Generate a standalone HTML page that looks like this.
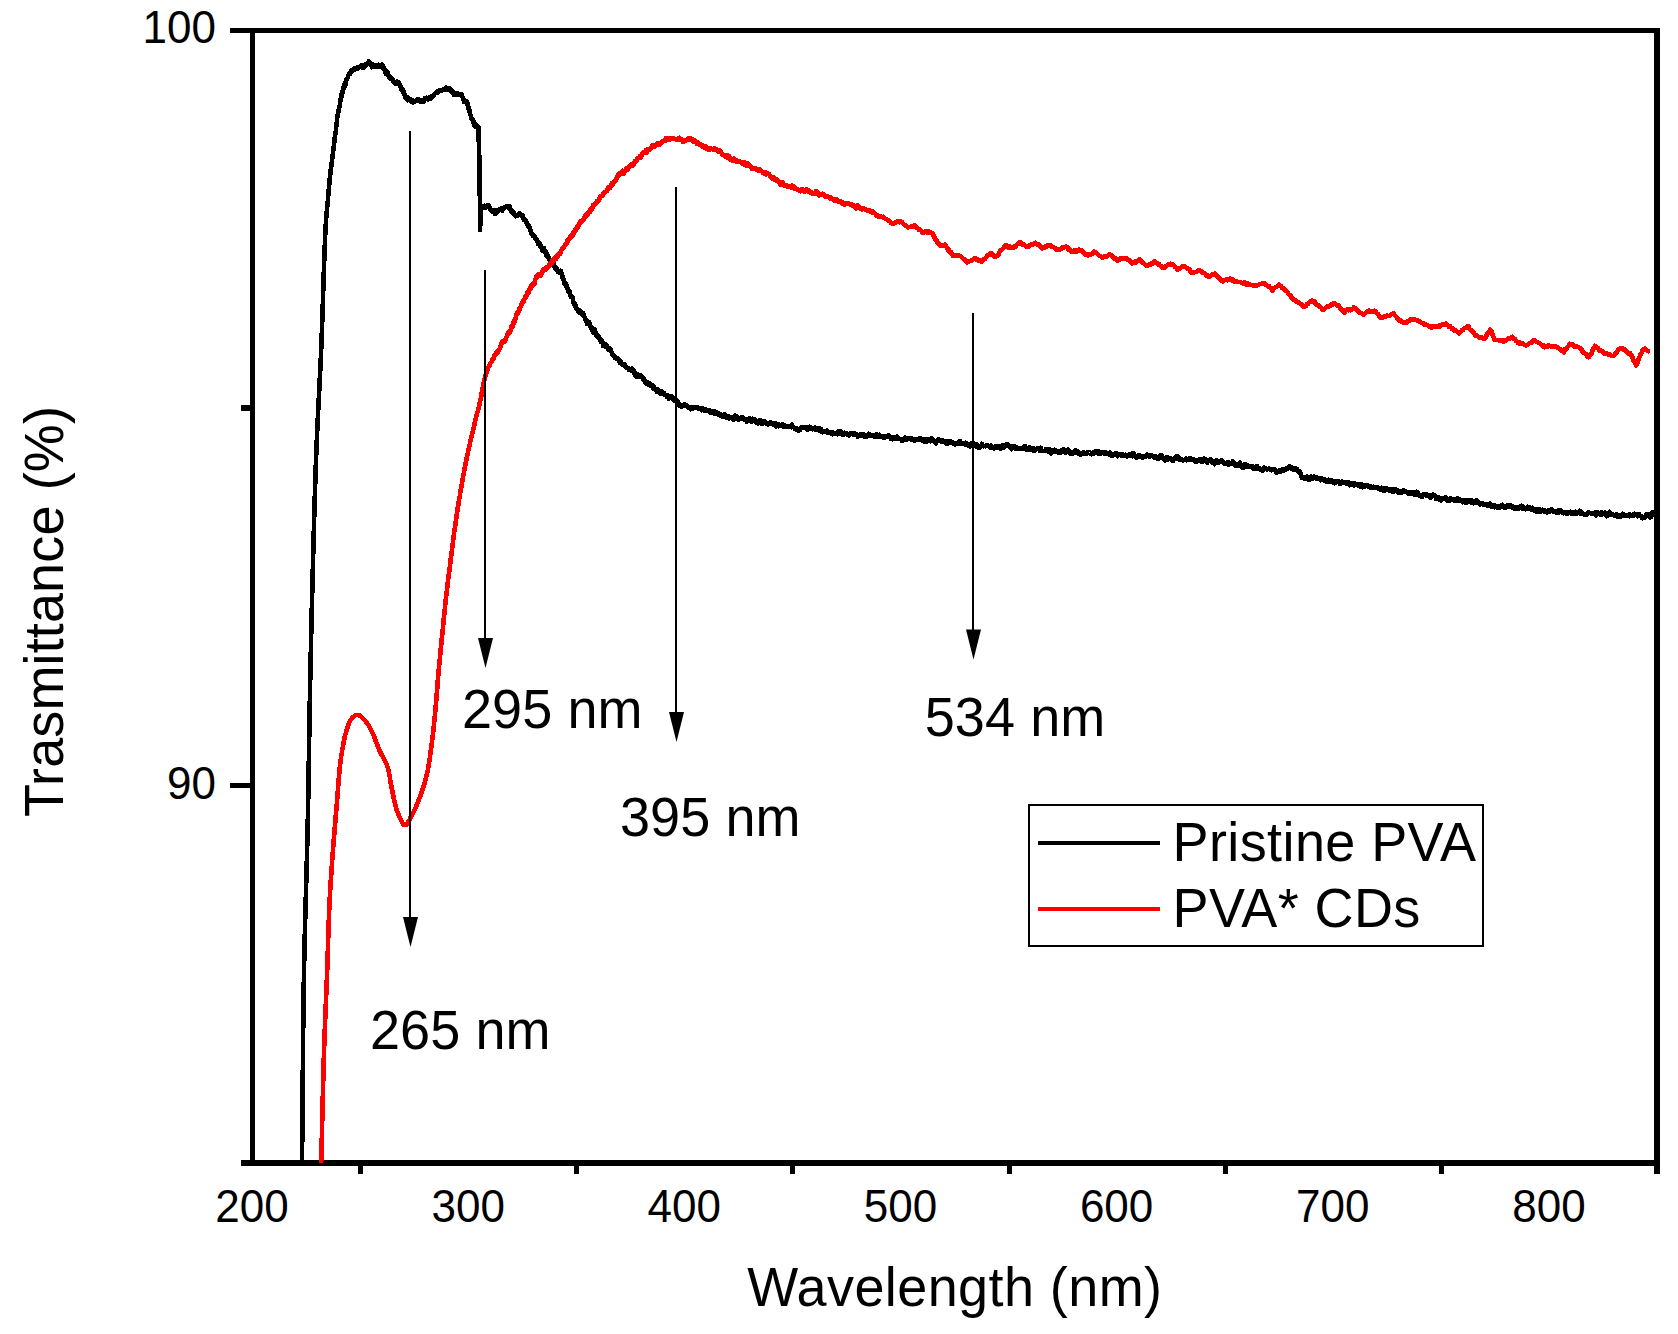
<!DOCTYPE html>
<html><head><meta charset="utf-8"><title>Transmittance</title>
<style>html,body{margin:0;padding:0;background:#fff;overflow:hidden}svg{display:block}</style>
</head><body>
<svg width="1678" height="1334" viewBox="0 0 1678 1334">
<rect width="1678" height="1334" fill="#fff"/>
<g fill="#000" shape-rendering="crispEdges">
<rect x="250" y="28" width="5" height="1138"/>
<rect x="1654" y="28" width="6" height="1146"/>
<rect x="230" y="28" width="1428" height="5"/>
<rect x="241" y="1160" width="1419" height="6"/>
<rect x="230" y="783" width="22" height="5"/>
<rect x="241" y="405" width="11" height="6"/>
<rect x="358.1" y="1163" width="5" height="11"/>
<rect x="574.2" y="1163" width="5" height="11"/>
<rect x="790.4" y="1163" width="5" height="11"/>
<rect x="1006.6" y="1163" width="5" height="11"/>
<rect x="1222.7" y="1163" width="5" height="11"/>
<rect x="1438.9" y="1163" width="5" height="11"/>
</g>
<clipPath id="c"><rect x="252" y="30" width="1405" height="1133"/></clipPath>
<g clip-path="url(#c)" fill="none" stroke-linejoin="round" stroke-linecap="butt" shape-rendering="crispEdges">
<path d="M302.0,1163.0 L302.0,1162.3 L302.0,1161.5 L302.0,1160.8 L302.0,1160.0 L302.0,1159.3 L302.0,1158.5 L302.0,1157.8 L302.0,1157.1 L302.0,1156.4 L302.0,1155.7 L302.0,1155.0 L302.0,1154.3 L302.0,1153.6 L302.0,1152.9 L302.1,1152.2 L302.1,1151.5 L302.1,1150.8 L302.1,1150.1 L302.1,1149.4 L302.1,1148.7 L302.1,1148.0 L302.1,1147.3 L302.1,1146.6 L302.1,1145.9 L302.1,1145.2 L302.1,1144.5 L302.1,1143.8 L302.1,1143.1 L302.2,1142.4 L302.2,1141.7 L302.2,1140.9 L302.2,1140.2 L302.2,1139.5 L302.2,1138.8 L302.2,1138.1 L302.2,1137.4 L302.2,1136.7 L302.2,1136.0 L302.2,1135.3 L302.2,1134.6 L302.2,1133.9 L302.2,1133.2 L302.2,1132.5 L302.2,1131.8 L302.3,1131.1 L302.3,1130.4 L302.3,1129.6 L302.3,1128.9 L302.3,1128.2 L302.3,1127.5 L302.3,1126.8 L302.3,1126.1 L302.3,1125.4 L302.3,1124.7 L302.3,1124.0 L302.3,1123.3 L302.3,1122.6 L302.3,1121.8 L302.3,1121.1 L302.3,1120.4 L302.4,1119.7 L302.4,1119.0 L302.4,1118.3 L302.4,1117.6 L302.4,1116.9 L302.4,1116.2 L302.4,1115.5 L302.4,1114.7 L302.4,1114.0 L302.4,1113.3 L302.4,1112.6 L302.4,1111.9 L302.4,1111.2 L302.4,1110.5 L302.4,1109.8 L302.4,1109.1 L302.4,1108.3 L302.5,1107.6 L302.5,1106.9 L302.5,1106.2 L302.5,1105.5 L302.5,1104.8 L302.5,1104.1 L302.5,1103.4 L302.5,1102.7 L302.5,1101.9 L302.5,1101.2 L302.5,1100.5 L302.5,1099.8 L302.5,1099.1 L302.5,1098.4 L302.5,1097.7 L302.5,1097.0 L302.5,1096.2 L302.5,1095.5 L302.6,1094.8 L302.6,1094.1 L302.6,1093.4 L302.6,1092.7 L302.6,1092.0 L302.6,1091.3 L302.6,1090.6 L302.6,1089.8 L302.6,1089.1 L302.6,1088.4 L302.6,1087.7 L302.6,1087.0 L302.6,1086.3 L302.6,1085.6 L302.6,1084.9 L302.6,1084.1 L302.6,1083.4 L302.7,1082.7 L302.7,1082.0 L302.7,1081.3 L302.7,1080.6 L302.7,1079.9 L302.7,1079.2 L302.7,1078.5 L302.7,1077.7 L302.7,1077.0 L302.7,1076.3 L302.7,1075.6 L302.7,1074.9 L302.7,1074.2 L302.7,1073.5 L302.7,1072.8 L302.7,1072.1 L302.7,1071.4 L302.8,1070.6 L302.8,1069.9 L302.8,1069.2 L302.8,1068.5 L302.8,1067.8 L302.8,1067.1 L302.8,1066.4 L302.8,1065.7 L302.8,1065.0 L302.8,1064.3 L302.8,1063.6 L302.8,1062.8 L302.8,1062.1 L302.8,1061.4 L302.8,1060.7 L302.8,1060.0 L302.8,1059.3 L302.9,1058.6 L302.9,1057.9 L302.9,1057.2 L302.9,1056.5 L302.9,1055.8 L302.9,1055.1 L302.9,1054.4 L302.9,1053.7 L302.9,1052.9 L302.9,1052.2 L302.9,1051.5 L302.9,1050.8 L302.9,1050.1 L302.9,1049.4 L302.9,1048.7 L303.0,1048.0 L303.0,1047.3 L303.0,1046.6 L303.0,1045.9 L303.0,1045.2 L303.0,1044.5 L303.0,1043.8 L303.0,1043.1 L303.0,1042.4 L303.0,1041.7 L303.0,1041.0 L303.0,1040.3 L303.0,1039.6 L303.0,1038.9 L303.0,1038.2 L303.1,1037.5 L303.1,1036.8 L303.1,1036.1 L303.1,1035.4 L303.1,1034.7 L303.1,1034.0 L303.1,1033.3 L303.1,1032.6 L303.1,1031.9 L303.1,1031.2 L303.1,1030.5 L303.1,1029.8 L303.1,1029.1 L303.1,1028.4 L303.2,1027.7 L303.2,1027.0 L303.2,1026.3 L303.2,1025.6 L303.2,1024.9 L303.2,1024.2 L303.2,1023.5 L303.2,1022.8 L303.2,1022.1 L303.2,1021.4 L303.2,1020.8 L303.2,1020.1 L303.2,1019.4 L303.3,1018.7 L303.3,1018.0 L303.3,1017.3 L303.3,1016.6 L303.3,1015.9 L303.3,1015.2 L303.3,1014.5 L303.3,1013.8 L303.3,1013.2 L303.3,1012.5 L303.3,1011.8 L303.3,1011.1 L303.4,1010.4 L303.4,1009.7 L303.4,1009.0 L303.4,1008.3 L303.4,1007.7 L303.4,1007.0 L303.4,1006.3 L303.4,1005.6 L303.4,1004.9 L303.4,1004.2 L303.4,1003.6 L303.5,1002.9 L303.5,1002.2 L303.5,1001.5 L303.5,1000.8 L303.5,1000.2 L303.5,999.5 L303.5,998.8 L303.5,998.1 L303.5,997.4 L303.5,996.8 L303.5,996.1 L303.6,995.4 L303.6,994.7 L303.6,994.0 L303.6,993.4 L303.6,992.7 L303.6,992.0 L303.6,991.3 L303.6,990.7 L303.6,990.0 L303.6,989.3 L303.7,988.7 L303.7,988.0 L303.7,987.3 L303.7,986.6 L303.7,986.0 L303.7,985.3 L303.7,984.6 L303.7,984.0 L303.7,983.3 L303.8,982.6 L303.8,982.0 L303.8,981.3 L303.8,980.6 L303.8,980.0 L303.8,979.3 L303.8,978.6 L303.8,978.0 L303.8,977.3 L303.9,976.6 L303.9,976.0 L303.9,975.3 L303.9,974.7 L303.9,974.0 L303.9,973.3 L303.9,972.5 L303.9,971.8 L304.0,971.0 L304.0,970.3 L304.0,969.6 L304.0,968.8 L304.0,968.1 L304.0,967.4 L304.0,966.6 L304.1,965.9 L304.1,965.2 L304.1,964.4 L304.1,963.7 L304.1,963.0 L304.1,962.3 L304.1,961.5 L304.2,960.8 L304.2,960.1 L304.2,959.3 L304.2,958.6 L304.2,957.9 L304.2,957.2 L304.2,956.4 L304.3,955.7 L304.3,955.0 L304.3,954.3 L304.3,953.5 L304.3,952.8 L304.3,952.1 L304.4,951.4 L304.4,950.7 L304.4,949.9 L304.4,949.2 L304.4,948.5 L304.4,947.8 L304.5,947.1 L304.5,946.3 L304.5,945.6 L304.5,944.9 L304.5,944.2 L304.5,943.5 L304.6,942.8 L304.6,942.1 L304.6,941.3 L304.6,940.6 L304.6,939.9 L304.6,939.2 L304.7,938.5 L304.7,937.8 L304.7,937.1 L304.7,936.4 L304.7,935.6 L304.7,934.9 L304.8,934.2 L304.8,933.5 L304.8,932.8 L304.8,932.1 L304.8,931.4 L304.9,930.7 L304.9,930.0 L304.9,929.3 L304.9,928.6 L304.9,927.9 L304.9,927.1 L305.0,926.4 L305.0,925.7 L305.0,925.0 L305.0,924.3 L305.0,923.6 L305.1,922.9 L305.1,922.2 L305.1,921.5 L305.1,920.8 L305.1,920.1 L305.2,919.4 L305.2,918.7 L305.2,918.0 L305.2,917.3 L305.2,916.6 L305.2,915.9 L305.3,915.2 L305.3,914.5 L305.3,913.8 L305.3,913.1 L305.3,912.4 L305.4,911.7 L305.4,911.0 L305.4,910.3 L305.4,909.6 L305.4,908.9 L305.5,908.2 L305.5,907.5 L305.5,906.8 L305.5,906.1 L305.5,905.5 L305.6,904.8 L305.6,904.1 L305.6,903.4 L305.6,902.7 L305.6,902.0 L305.7,901.3 L305.7,900.6 L305.7,899.9 L305.7,899.2 L305.7,898.5 L305.7,897.8 L305.8,897.1 L305.8,896.4 L305.8,895.7 L305.8,895.1 L305.8,894.4 L305.9,893.7 L305.9,893.0 L305.9,892.3 L305.9,891.6 L305.9,890.9 L306.0,890.2 L306.0,889.5 L306.0,888.8 L306.0,888.2 L306.0,887.5 L306.1,886.8 L306.1,886.1 L306.1,885.4 L306.1,884.7 L306.1,884.0 L306.2,883.3 L306.2,882.6 L306.2,882.0 L306.2,881.3 L306.2,880.6 L306.3,879.9 L306.3,879.2 L306.3,878.5 L306.3,877.8 L306.3,877.1 L306.4,876.5 L306.4,875.8 L306.4,875.1 L306.4,874.4 L306.4,873.7 L306.4,873.0 L306.5,872.3 L306.5,871.6 L306.5,871.0 L306.5,870.3 L306.5,869.6 L306.6,868.9 L306.6,868.2 L306.6,867.5 L306.6,866.8 L306.6,866.2 L306.7,865.5 L306.7,864.8 L306.7,864.1 L306.7,863.4 L306.7,862.7 L306.7,862.0 L306.8,861.4 L306.8,860.7 L306.8,860.0 L306.8,859.3 L306.8,858.6 L306.9,857.9 L306.9,857.2 L306.9,856.6 L306.9,855.9 L306.9,855.2 L306.9,854.5 L307.0,853.8 L307.0,853.1 L307.0,852.4 L307.0,851.7 L307.0,851.1 L307.1,850.4 L307.1,849.7 L307.1,849.0 L307.1,848.3 L307.1,847.6 L307.1,846.9 L307.2,846.3 L307.2,845.6 L307.2,844.9 L307.2,844.2 L307.2,843.5 L307.2,842.8 L307.3,842.1 L307.3,841.5 L307.3,840.8 L307.3,840.1 L307.3,839.4 L307.3,838.7 L307.4,838.0 L307.4,837.3 L307.4,836.6 L307.4,836.0 L307.4,835.3 L307.4,834.6 L307.4,833.9 L307.5,833.2 L307.5,832.5 L307.5,831.8 L307.5,831.1 L307.5,830.4 L307.5,829.8 L307.6,829.1 L307.6,828.4 L307.6,827.7 L307.6,827.0 L307.6,826.3 L307.6,825.6 L307.6,824.9 L307.7,824.2 L307.7,823.4 L307.7,822.7 L307.7,822.0 L307.7,821.3 L307.7,820.6 L307.7,819.9 L307.8,819.2 L307.8,818.5 L307.8,817.8 L307.8,817.0 L307.8,816.3 L307.8,815.6 L307.8,814.9 L307.9,814.2 L307.9,813.5 L307.9,812.8 L307.9,812.1 L307.9,811.4 L307.9,810.6 L307.9,809.9 L308.0,809.2 L308.0,808.5 L308.0,807.8 L308.0,807.1 L308.0,806.4 L308.0,805.7 L308.0,805.0 L308.0,804.3 L308.1,803.5 L308.1,802.8 L308.1,802.1 L308.1,801.4 L308.1,800.7 L308.1,800.0 L308.1,799.3 L308.2,798.6 L308.2,797.9 L308.2,797.1 L308.2,796.4 L308.2,795.7 L308.2,795.0 L308.2,794.3 L308.2,793.6 L308.2,792.9 L308.3,792.2 L308.3,791.5 L308.3,790.8 L308.3,790.0 L308.3,789.3 L308.3,788.6 L308.3,787.9 L308.3,787.2 L308.4,786.5 L308.4,785.8 L308.4,785.1 L308.4,784.4 L308.4,783.7 L308.4,782.9 L308.4,782.2 L308.4,781.5 L308.5,780.8 L308.5,780.1 L308.5,779.4 L308.5,778.7 L308.5,778.0 L308.5,777.3 L308.5,776.6 L308.5,775.9 L308.5,775.2 L308.6,774.4 L308.6,773.7 L308.6,773.0 L308.6,772.3 L308.6,771.6 L308.6,770.9 L308.6,770.2 L308.6,769.5 L308.6,768.8 L308.7,768.1 L308.7,767.4 L308.7,766.7 L308.7,766.0 L308.7,765.3 L308.7,764.6 L308.7,763.8 L308.7,763.1 L308.7,762.4 L308.8,761.7 L308.8,761.0 L308.8,760.3 L308.8,759.6 L308.8,758.9 L308.8,758.2 L308.8,757.5 L308.8,756.8 L308.8,756.1 L308.9,755.4 L308.9,754.7 L308.9,754.0 L308.9,753.3 L308.9,752.6 L308.9,751.9 L308.9,751.2 L308.9,750.5 L308.9,749.8 L309.0,749.1 L309.0,748.4 L309.0,747.7 L309.0,747.0 L309.0,746.3 L309.0,745.6 L309.0,744.9 L309.0,744.2 L309.0,743.5 L309.1,742.8 L309.1,742.1 L309.1,741.4 L309.1,740.7 L309.1,740.0 L309.1,739.3 L309.1,738.6 L309.1,737.9 L309.1,737.2 L309.2,736.5 L309.2,735.8 L309.2,735.1 L309.2,734.4 L309.2,733.7 L309.2,733.0 L309.2,732.3 L309.2,731.6 L309.2,730.9 L309.3,730.2 L309.3,729.5 L309.3,728.8 L309.3,728.1 L309.3,727.4 L309.3,726.7 L309.3,726.0 L309.3,725.3 L309.3,724.6 L309.4,723.9 L309.4,723.2 L309.4,722.5 L309.4,721.9 L309.4,721.2 L309.4,720.5 L309.4,719.8 L309.4,719.1 L309.4,718.4 L309.5,717.7 L309.5,717.0 L309.5,716.3 L309.5,715.6 L309.5,714.9 L309.5,714.3 L309.5,713.6 L309.5,712.9 L309.6,712.2 L309.6,711.5 L309.6,710.8 L309.6,710.1 L309.6,709.4 L309.6,708.8 L309.6,708.1 L309.6,707.4 L309.7,706.7 L309.7,706.0 L309.7,705.3 L309.7,704.6 L309.7,704.0 L309.7,703.3 L309.7,702.6 L309.7,701.9 L309.8,701.2 L309.8,700.5 L309.8,699.8 L309.8,699.2 L309.8,698.5 L309.8,697.8 L309.8,697.1 L309.8,696.4 L309.9,695.8 L309.9,695.1 L309.9,694.4 L309.9,693.7 L309.9,693.0 L309.9,692.4 L309.9,691.7 L309.9,691.0 L310.0,690.3 L310.0,689.7 L310.0,689.0 L310.0,688.3 L310.0,687.6 L310.0,686.8 L310.0,686.1 L310.1,685.4 L310.1,684.7 L310.1,684.0 L310.1,683.2 L310.1,682.5 L310.1,681.8 L310.1,681.1 L310.2,680.3 L310.2,679.6 L310.2,678.9 L310.2,678.2 L310.2,677.5 L310.2,676.7 L310.3,676.0 L310.3,675.3 L310.3,674.6 L310.3,673.9 L310.3,673.1 L310.3,672.4 L310.3,671.7 L310.4,671.0 L310.4,670.3 L310.4,669.6 L310.4,668.8 L310.4,668.1 L310.4,667.4 L310.4,666.7 L310.5,666.0 L310.5,665.3 L310.5,664.6 L310.5,663.9 L310.5,663.1 L310.5,662.4 L310.6,661.7 L310.6,661.0 L310.6,660.3 L310.6,659.6 L310.6,658.9 L310.6,658.2 L310.6,657.5 L310.7,656.7 L310.7,656.0 L310.7,655.3 L310.7,654.6 L310.7,653.9 L310.7,653.2 L310.8,652.5 L310.8,651.8 L310.8,651.1 L310.8,650.4 L310.8,649.7 L310.8,649.0 L310.8,648.3 L310.9,647.5 L310.9,646.8 L310.9,646.1 L310.9,645.4 L310.9,644.7 L310.9,644.0 L311.0,643.3 L311.0,642.6 L311.0,641.9 L311.0,641.2 L311.0,640.5 L311.0,639.8 L311.1,639.1 L311.1,638.4 L311.1,637.7 L311.1,637.0 L311.1,636.3 L311.1,635.6 L311.1,634.9 L311.2,634.2 L311.2,633.5 L311.2,632.8 L311.2,632.1 L311.2,631.4 L311.2,630.7 L311.3,630.0 L311.3,629.3 L311.3,628.6 L311.3,627.9 L311.3,627.2 L311.3,626.5 L311.4,625.8 L311.4,625.1 L311.4,624.4 L311.4,623.7 L311.4,623.0 L311.4,622.3 L311.5,621.6 L311.5,620.9 L311.5,620.2 L311.5,619.5 L311.5,618.8 L311.5,618.1 L311.5,617.4 L311.6,616.8 L311.6,616.1 L311.6,615.4 L311.6,614.7 L311.6,614.0 L311.6,613.3 L311.7,612.6 L311.7,611.9 L311.7,611.2 L311.7,610.5 L311.7,609.8 L311.7,609.1 L311.8,608.4 L311.8,607.7 L311.8,607.0 L311.8,606.3 L311.8,605.6 L311.9,604.9 L311.9,604.3 L311.9,603.6 L311.9,602.9 L311.9,602.2 L311.9,601.5 L312.0,600.8 L312.0,600.1 L312.0,599.4 L312.0,598.7 L312.0,598.0 L312.0,597.3 L312.1,596.6 L312.1,595.9 L312.1,595.3 L312.1,594.6 L312.1,593.9 L312.1,593.2 L312.2,592.5 L312.2,591.8 L312.2,591.1 L312.2,590.4 L312.2,589.7 L312.2,589.0 L312.3,588.3 L312.3,587.6 L312.3,587.0 L312.3,586.3 L312.3,585.6 L312.4,584.9 L312.4,584.2 L312.4,583.5 L312.4,582.8 L312.4,582.1 L312.4,581.4 L312.5,580.7 L312.5,580.0 L312.5,579.3 L312.5,578.7 L312.5,578.0 L312.5,577.3 L312.6,576.6 L312.6,575.9 L312.6,575.2 L312.6,574.5 L312.6,573.8 L312.7,573.1 L312.7,572.4 L312.7,571.7 L312.7,571.1 L312.7,570.4 L312.7,569.7 L312.8,569.0 L312.8,568.3 L312.8,567.6 L312.8,566.9 L312.8,566.2 L312.9,565.5 L312.9,564.8 L312.9,564.1 L312.9,563.4 L312.9,562.6 L312.9,561.9 L313.0,561.2 L313.0,560.5 L313.0,559.8 L313.0,559.1 L313.0,558.4 L313.1,557.7 L313.1,557.0 L313.1,556.3 L313.1,555.6 L313.1,554.9 L313.2,554.2 L313.2,553.5 L313.2,552.8 L313.2,552.1 L313.2,551.4 L313.2,550.6 L313.3,549.9 L313.3,549.2 L313.3,548.5 L313.3,547.8 L313.3,547.1 L313.4,546.4 L313.4,545.7 L313.4,545.0 L313.4,544.3 L313.4,543.6 L313.5,542.9 L313.5,542.2 L313.5,541.5 L313.5,540.8 L313.5,540.1 L313.5,539.4 L313.6,538.7 L313.6,538.0 L313.6,537.3 L313.6,536.6 L313.6,535.9 L313.7,535.2 L313.7,534.5 L313.7,533.8 L313.7,533.1 L313.7,532.4 L313.8,531.7 L313.8,531.0 L313.8,530.3 L313.8,529.6 L313.8,528.9 L313.8,528.2 L313.9,527.5 L313.9,526.8 L313.9,526.1 L313.9,525.4 L313.9,524.7 L314.0,524.0 L314.0,523.3 L314.0,522.6 L314.0,521.9 L314.0,521.2 L314.1,520.5 L314.1,519.8 L314.1,519.1 L314.1,518.4 L314.1,517.7 L314.2,517.0 L314.2,516.3 L314.2,515.6 L314.2,514.9 L314.2,514.2 L314.3,513.5 L314.3,512.8 L314.3,512.1 L314.3,511.4 L314.3,510.7 L314.3,510.0 L314.4,509.3 L314.4,508.6 L314.4,507.9 L314.4,507.2 L314.5,506.5 L314.5,505.9 L314.5,505.2 L314.5,504.5 L314.5,503.8 L314.6,503.1 L314.6,502.4 L314.6,501.7 L314.6,501.0 L314.6,500.3 L314.7,499.6 L314.7,498.9 L314.7,498.2 L314.7,497.5 L314.7,496.8 L314.8,496.1 L314.8,495.4 L314.8,494.7 L314.8,494.0 L314.8,493.3 L314.9,492.6 L314.9,491.9 L314.9,491.2 L314.9,490.6 L315.0,489.9 L315.0,489.2 L315.0,488.5 L315.0,487.8 L315.0,487.1 L315.1,486.4 L315.1,485.7 L315.1,485.0 L315.1,484.3 L315.2,483.6 L315.2,482.9 L315.2,482.2 L315.2,481.5 L315.2,480.8 L315.3,480.1 L315.3,479.4 L315.3,478.8 L315.3,478.1 L315.4,477.4 L315.4,476.7 L315.4,476.0 L315.4,475.3 L315.4,474.6 L315.5,473.9 L315.5,473.2 L315.5,472.5 L315.5,471.8 L315.6,471.1 L315.6,470.4 L315.6,469.7 L315.6,469.0 L315.7,468.4 L315.7,467.7 L315.7,467.0 L315.7,466.3 L315.8,465.6 L315.8,464.9 L315.8,464.2 L315.8,463.5 L315.9,462.8 L315.9,462.1 L315.9,461.4 L315.9,460.7 L316.0,460.0 L316.0,459.3 L316.0,458.6 L316.0,458.0 L316.1,457.3 L316.1,456.6 L316.1,455.9 L316.1,455.2 L316.2,454.5 L316.2,453.8 L316.2,453.1 L316.3,452.4 L316.3,451.7 L316.3,451.0 L316.3,450.3 L316.4,449.6 L316.4,448.9 L316.4,448.2 L316.5,447.4 L316.5,446.7 L316.5,446.0 L316.5,445.3 L316.6,444.6 L316.6,443.9 L316.6,443.2 L316.7,442.5 L316.7,441.8 L316.7,441.1 L316.8,440.3 L316.8,439.6 L316.8,438.9 L316.8,438.2 L316.9,437.5 L316.9,436.8 L316.9,436.1 L317.0,435.4 L317.0,434.6 L317.0,433.9 L317.1,433.2 L317.1,432.5 L317.1,431.8 L317.2,431.1 L317.2,430.4 L317.2,429.7 L317.3,428.9 L317.3,428.2 L317.3,427.5 L317.4,426.8 L317.4,426.1 L317.4,425.4 L317.5,424.7 L317.5,423.9 L317.5,423.2 L317.6,422.5 L317.6,421.8 L317.6,421.1 L317.7,420.4 L317.7,419.6 L317.7,418.9 L317.8,418.2 L317.8,417.5 L317.9,416.8 L317.9,416.1 L317.9,415.4 L318.0,414.6 L318.0,413.9 L318.0,413.2 L318.1,412.5 L318.1,411.8 L318.1,411.1 L318.2,410.4 L318.2,409.6 L318.2,408.9 L318.3,408.2 L318.3,407.5 L318.3,406.8 L318.4,406.1 L318.4,405.4 L318.5,404.7 L318.5,403.9 L318.5,403.2 L318.6,402.5 L318.6,401.8 L318.6,401.1 L318.7,400.4 L318.7,399.7 L318.7,399.0 L318.8,398.3 L318.8,397.5 L318.9,396.8 L318.9,396.1 L318.9,395.4 L319.0,394.7 L319.0,394.0 L319.0,393.3 L319.1,392.6 L319.1,391.9 L319.1,391.2 L319.2,390.5 L319.2,389.8 L319.2,389.1 L319.3,388.4 L319.3,387.6 L319.4,386.9 L319.4,386.2 L319.4,385.5 L319.5,384.8 L319.5,384.1 L319.5,383.4 L319.6,382.7 L319.6,382.0 L319.6,381.3 L319.7,380.6 L319.7,379.9 L319.7,379.2 L319.8,378.5 L319.8,377.8 L319.8,377.2 L319.9,376.5 L319.9,375.8 L320.0,375.1 L320.0,374.4 L320.0,373.7 L320.1,373.0 L320.1,372.3 L320.1,371.6 L320.2,370.9 L320.2,370.2 L320.2,369.5 L320.3,368.9 L320.3,368.2 L320.3,367.5 L320.4,366.8 L320.4,366.1 L320.4,365.4 L320.5,364.8 L320.5,364.1 L320.5,363.4 L320.6,362.7 L320.6,362.0 L320.6,361.4 L320.6,360.7 L320.7,360.0 L320.7,359.3 L320.7,358.6 L320.8,358.0 L320.8,357.3 L320.8,356.6 L320.9,356.0 L320.9,355.3 L320.9,354.6 L321.0,353.9 L321.0,353.3 L321.0,352.6 L321.0,352.0 L321.1,351.3 L321.1,350.6 L321.1,350.0 L321.2,349.3 L321.2,348.6 L321.2,348.0 L321.2,347.3 L321.3,346.7 L321.3,346.0 L321.3,345.4 L321.3,344.7 L321.4,344.1 L321.4,343.4 L321.4,342.7 L321.5,341.9 L321.5,341.2 L321.5,340.4 L321.5,339.7 L321.6,338.9 L321.6,338.2 L321.6,337.4 L321.7,336.7 L321.7,335.9 L321.7,335.2 L321.7,334.4 L321.8,333.7 L321.8,332.9 L321.8,332.2 L321.9,331.4 L321.9,330.6 L321.9,329.9 L321.9,329.1 L322.0,328.4 L322.0,327.6 L322.0,326.9 L322.0,326.1 L322.1,325.4 L322.1,324.6 L322.1,323.9 L322.1,323.1 L322.2,322.4 L322.2,321.6 L322.2,320.9 L322.2,320.1 L322.3,319.4 L322.3,318.6 L322.3,317.9 L322.3,317.1 L322.4,316.4 L322.4,315.6 L322.4,314.9 L322.4,314.1 L322.5,313.4 L322.5,312.6 L322.5,311.9 L322.5,311.1 L322.6,310.4 L322.6,309.7 L322.6,308.9 L322.6,308.2 L322.7,307.4 L322.7,306.7 L322.7,306.0 L322.7,305.2 L322.7,304.5 L322.8,303.8 L322.8,303.0 L322.8,302.3 L322.8,301.6 L322.9,300.9 L322.9,300.1 L322.9,299.4 L322.9,298.7 L323.0,298.0 L323.0,297.2 L323.0,296.5 L323.0,295.8 L323.0,295.1 L323.1,294.4 L323.1,293.7 L323.1,293.0 L323.1,292.3 L323.1,291.6 L323.2,290.9 L323.2,290.2 L323.2,289.5 L323.2,288.8 L323.3,288.1 L323.3,287.4 L323.3,286.7 L323.3,286.0 L323.3,285.3 L323.4,284.6 L323.4,283.9 L323.4,283.3 L323.4,282.6 L323.4,281.9 L323.5,281.3 L323.5,280.6 L323.5,279.9 L323.5,279.3 L323.5,278.6 L323.6,277.9 L323.6,277.3 L323.6,276.6 L323.6,276.0 L323.7,275.3 L323.7,274.7 L323.7,274.1 L323.7,273.4 L323.7,272.8 L323.8,272.2 L323.8,271.5 L323.8,270.9 L323.8,270.3 L323.8,269.7 L323.9,269.1 L323.9,268.4 L323.9,267.8 L323.9,267.2 L323.9,266.6 L324.0,266.0 L324.0,265.4 L324.0,264.8 L324.0,264.3 L324.1,263.7 L324.1,263.1 L324.1,262.5 L324.1,261.9 L324.1,261.4 L324.2,260.8 L324.2,260.3 L324.2,259.7 L324.2,258.9 L324.3,258.0 L324.3,257.2 L324.3,256.4 L324.4,255.6 L324.4,254.8 L324.4,254.0 L324.4,253.2 L324.5,252.4 L324.5,251.7 L324.5,250.9 L324.6,250.1 L324.6,249.4 L324.6,248.6 L324.6,247.9 L324.7,247.2 L324.7,246.4 L324.7,245.7 L324.8,245.0 L324.8,244.3 L324.8,243.6 L324.8,242.9 L324.9,242.2 L324.9,241.5 L324.9,240.8 L324.9,240.1 L325.0,239.5 L325.0,238.8 L325.0,238.1 L325.1,237.4 L325.1,236.8 L325.1,236.1 L325.1,235.5 L325.2,234.8 L325.2,234.2 L325.2,233.5 L325.3,232.9 L325.3,232.2 L325.3,231.6 L325.4,230.9 L325.4,230.3 L325.4,229.6 L325.5,229.0 L325.5,228.4 L325.5,227.7 L325.6,227.1 L325.6,226.5 L325.6,225.8 L325.7,225.2 L325.7,224.6 L325.8,223.9 L325.8,223.3 L325.9,222.5 L325.9,221.8 L326.0,221.0 L326.0,220.3 L326.1,219.6 L326.1,218.8 L326.2,218.1 L326.2,217.4 L326.3,216.7 L326.4,216.0 L326.4,215.3 L326.5,214.5 L326.5,213.8 L326.6,213.1 L326.7,212.5 L326.7,211.8 L326.8,211.1 L326.9,210.4 L326.9,209.7 L327.0,209.0 L327.0,208.3 L327.1,207.7 L327.2,207.0 L327.2,206.3 L327.3,205.7 L327.4,205.0 L327.4,204.3 L327.5,203.6 L327.6,203.0 L327.6,202.3 L327.7,201.6 L327.8,201.0 L327.8,200.3 L327.9,199.6 L327.9,199.0 L328.0,198.3 L328.1,197.6 L328.1,196.9 L328.2,196.1 L328.3,195.4 L328.3,194.7 L328.4,194.0 L328.4,193.3 L328.5,192.6 L328.6,191.9 L328.6,191.2 L328.7,190.5 L328.7,189.8 L328.8,189.1 L328.9,188.4 L328.9,187.7 L329.0,187.0 L329.1,186.3 L329.1,185.6 L329.2,184.9 L329.2,184.2 L329.3,183.5 L329.4,182.9 L329.4,182.2 L329.5,181.5 L329.6,180.8 L329.6,180.1 L329.7,179.4 L329.8,178.7 L329.9,178.1 L329.9,177.4 L330.0,176.7 L330.1,176.0 L330.2,175.3 L330.2,174.6 L330.3,173.9 L330.4,173.2 L330.5,172.5 L330.6,171.8 L330.6,171.1 L330.7,170.4 L330.8,169.7 L330.9,169.1 L331.0,168.4 L331.1,167.7 L331.2,167.0 L331.3,166.3 L331.3,165.6 L331.4,164.9 L331.5,164.3 L331.6,163.6 L331.7,162.9 L331.8,162.2 L331.9,161.5 L332.0,160.8 L332.1,160.1 L332.2,159.4 L332.2,158.8 L332.3,158.0 L332.4,157.4 L332.5,156.6 L332.6,156.0 L332.7,155.3 L332.8,154.6 L332.8,153.9 L332.9,153.3 L333.0,152.5" stroke="#000" stroke-width="4.6"/>
<path d="M333.0,152.5 L333.1,151.8 L333.2,151.1 L333.3,150.5 L333.4,149.7 L333.4,149.0 L333.5,148.5 L333.6,147.6 L333.7,147.2 L333.8,146.3 L333.9,145.7 L334.0,144.9 L334.1,144.5 L334.1,143.6 L334.2,143.2 L334.3,142.2 L334.4,141.2 L334.5,140.8 L334.6,139.6 L334.7,139.2 L334.7,138.7 L334.8,137.7 L334.9,137.3 L335.0,136.6 L335.1,135.9 L335.2,135.0 L335.3,134.6 L335.3,134.0 L335.4,132.9 L335.5,133.0 L335.6,132.4 L335.7,131.4 L335.8,131.1 L335.8,130.3 L335.9,129.1 L336.0,128.6 L336.1,127.9 L336.2,126.8 L336.3,125.2 L336.3,124.8 L336.4,124.5 L336.5,123.8 L336.6,123.3 L336.7,122.6 L336.8,121.8 L336.9,121.5 L336.9,121.1 L337.0,120.4 L337.1,119.8 L337.2,118.1 L337.3,117.4 L337.4,117.2 L337.5,116.4 L337.6,115.0 L337.7,115.3 L337.9,114.2 L338.0,114.8 L338.1,112.9 L338.3,112.2 L338.4,111.3 L338.5,110.5 L338.6,109.6 L338.8,109.5 L338.9,108.4 L339.0,108.3 L339.2,107.5 L339.3,107.1 L339.5,106.2 L339.6,105.7 L339.7,105.8 L339.9,104.3 L340.0,103.7 L340.1,102.8 L340.3,101.6 L340.4,100.4 L340.5,99.6 L340.7,99.1 L340.8,98.0 L340.9,98.6 L341.1,98.6 L341.2,98.0 L341.3,96.9 L341.5,95.1 L341.6,94.5 L341.8,93.9 L342.0,94.7 L342.1,92.8 L342.3,91.5 L342.5,93.2 L342.7,90.6 L342.9,88.9 L343.1,89.5 L343.3,89.6 L343.5,88.3 L343.7,86.6 L343.9,87.2 L344.2,84.8 L344.4,85.6 L344.6,86.5 L344.9,82.9 L345.1,84.4 L345.4,85.5 L345.6,83.4 L345.9,81.9 L346.2,80.4 L346.4,80.0 L346.7,78.6 L347.0,79.7 L347.3,78.7 L347.7,77.2 L348.0,77.8 L348.3,75.3 L348.7,74.6 L349.0,73.8 L349.4,72.9 L349.8,74.3 L350.1,74.0 L350.5,72.3 L350.9,71.8 L351.3,70.5 L351.7,71.8 L352.2,70.6 L352.7,70.8 L353.3,70.1 L353.8,70.0 L354.3,68.0 L354.9,68.6 L355.5,68.0 L356.1,68.9 L356.7,68.8 L357.3,69.0 L357.9,67.4 L358.6,67.8 L359.3,67.4 L359.9,67.0 L360.6,65.7 L361.3,65.8 L362.0,66.4 L362.6,67.6 L363.3,65.5 L363.9,67.0 L364.5,67.2 L365.1,64.5 L365.8,65.4 L366.4,65.1 L367.0,64.4 L367.6,63.3 L368.2,63.2 L368.8,61.4 L369.4,62.4 L370.0,62.8 L370.6,63.4 L371.2,65.6 L371.9,67.2 L372.5,65.5 L373.1,64.5 L373.7,65.8 L374.4,65.5 L375.0,67.1 L375.6,66.1 L376.1,65.9 L376.7,65.1 L377.4,65.2 L378.1,64.8 L378.8,66.5 L379.5,66.0 L380.1,65.7 L380.8,66.6 L381.2,65.5 L381.7,65.7 L382.1,64.5 L382.5,65.2 L382.9,67.2 L383.3,68.4 L383.7,67.5 L384.1,69.6 L384.5,69.5 L385.0,70.5 L385.4,72.9 L385.8,73.5 L386.2,74.1 L386.7,72.9 L387.2,71.6 L387.7,72.8 L388.2,74.8 L388.7,76.8 L389.2,75.4 L389.7,78.2 L390.2,78.8 L390.7,77.0 L391.2,79.3 L391.8,78.6 L392.3,79.2 L392.8,79.3 L393.3,80.3 L393.8,82.2 L394.4,82.5 L394.9,82.3 L395.4,82.2 L396.0,83.9 L396.5,81.7 L397.0,82.4 L397.6,81.8 L398.1,82.0 L398.6,83.8 L399.1,82.9 L399.6,84.8 L400.0,85.9 L400.4,86.1 L400.7,87.5 L401.1,87.7 L401.4,89.0 L401.7,89.9 L402.0,89.8 L402.3,90.4 L402.6,89.4 L402.9,92.5 L403.2,91.3 L403.5,91.4 L403.7,92.5 L404.0,93.8 L404.3,93.4 L404.7,94.2 L405.0,95.9 L405.5,98.2 L406.0,97.2 L406.4,98.8 L406.9,98.2 L407.4,100.2 L408.0,97.6 L408.6,99.7 L409.2,100.0 L409.8,98.7 L410.4,100.9 L411.1,101.3 L411.7,101.2 L412.4,100.5 L413.2,102.4 L413.9,101.2 L414.6,101.9 L415.3,100.7 L416.0,100.4 L416.7,100.3 L417.4,101.1 L418.0,98.9 L418.7,99.4 L419.3,100.8 L420.0,100.8 L420.6,101.7 L421.3,101.7 L421.9,101.9 L422.6,100.3 L423.3,100.2 L423.9,101.3 L424.5,98.5 L425.2,99.6 L425.8,98.5 L426.5,97.8 L427.1,99.2 L427.8,99.4 L428.5,99.1 L429.1,98.3 L429.8,97.0 L430.4,98.9 L431.1,98.2 L431.7,96.3 L432.3,97.1 L432.9,96.6 L433.5,96.4 L434.1,95.2 L434.7,93.7 L435.3,93.0 L435.9,92.5 L436.5,91.8 L437.1,92.4 L437.7,92.8 L438.3,91.4 L438.8,90.7 L439.4,90.8 L440.0,91.2 L440.7,90.0 L441.4,90.9 L442.0,90.8 L442.7,89.6 L443.4,89.5 L444.0,89.8 L444.7,89.8 L445.3,89.9 L446.0,87.5 L446.7,88.9 L447.3,87.9 L447.9,88.6 L448.6,90.1 L449.2,88.6 L449.8,88.2 L450.4,90.4 L451.1,89.8 L451.7,91.6 L452.3,91.1 L453.0,91.9 L453.6,94.5 L454.2,94.2 L454.8,93.4 L455.5,94.6 L456.1,93.5 L456.8,93.3 L457.5,94.4 L458.1,93.5 L458.8,94.4 L459.4,94.6 L460.0,95.1 L460.6,95.3 L461.2,94.1 L461.7,94.8 L462.2,96.7 L462.7,97.2 L463.1,98.5 L463.6,99.1 L464.0,101.8 L464.4,100.5 L464.8,101.0 L465.2,101.4 L465.6,101.4 L466.0,101.7 L466.3,102.3 L466.7,102.1 L467.0,101.3 L467.3,103.2 L467.5,104.2 L467.8,106.0 L468.0,106.0 L468.2,108.0 L468.4,106.9 L468.7,109.2 L468.9,109.1 L469.1,109.6 L469.3,111.4 L469.5,111.0 L469.7,110.6 L469.9,112.4 L470.1,114.0 L470.3,114.7 L470.6,115.1 L470.8,115.9 L471.1,116.1 L471.3,117.7 L471.6,118.7 L471.8,118.4 L472.1,119.6 L472.4,119.3 L472.6,119.6 L472.9,120.2 L473.2,122.2 L473.5,121.5 L473.7,123.5 L474.0,124.4 L474.3,124.0 L474.7,126.3 L475.0,125.7 L475.6,124.3 L476.3,127.1 L477.0,126.8 L477.6,128.3 L478.3,126.7 L478.3,127.4 L478.3,128.1 L478.4,128.8 L478.4,129.5 L478.4,130.2 L478.4,130.9 L478.5,131.6 L478.5,132.3 L478.5,133.0 L478.5,133.6 L478.5,134.3 L478.6,135.0 L478.6,135.7 L478.6,136.4 L478.6,137.1 L478.7,137.8 L478.7,138.5 L478.7,139.2 L478.7,139.9 L478.7,140.6 L478.8,141.3 L478.8,141.9 L478.8,142.6 L478.8,143.3 L478.9,144.0 L478.9,144.7 L478.9,145.4 L478.9,146.1 L478.9,146.8 L479.0,147.5 L479.0,148.2 L479.0,148.9 L479.0,149.6 L479.0,150.3 L479.1,151.0 L479.1,151.7 L479.1,152.4 L479.1,153.1 L479.1,153.8 L479.1,154.6 L479.2,155.3 L479.2,156.0 L479.2,156.7 L479.2,157.4 L479.2,158.1 L479.2,158.7 L479.3,159.4 L479.3,160.1 L479.3,160.8 L479.3,161.4 L479.3,162.1 L479.3,162.8 L479.3,163.5 L479.4,164.2 L479.4,164.8 L479.4,165.5 L479.4,166.2 L479.4,166.9 L479.4,167.6 L479.4,168.2 L479.4,168.9 L479.4,169.6 L479.5,170.3 L479.5,171.0 L479.5,171.7 L479.5,172.4 L479.5,173.1 L479.5,173.7 L479.5,174.4 L479.5,175.1 L479.5,175.8 L479.5,176.5 L479.5,177.2 L479.6,177.9 L479.6,178.6 L479.6,179.3 L479.6,180.0 L479.6,180.7 L479.6,181.4 L479.6,182.1 L479.6,182.8 L479.6,183.5 L479.6,184.3 L479.6,185.0 L479.7,185.7 L479.7,186.4 L479.7,187.1 L479.7,187.8 L479.7,188.6 L479.7,189.3 L479.7,190.0 L479.7,190.7 L479.7,191.3 L479.7,192.0 L479.7,192.7 L479.7,193.4 L479.7,194.1 L479.7,194.7 L479.8,195.4 L479.8,196.1 L479.8,196.8 L479.8,197.5 L479.8,198.2 L479.8,198.9 L479.8,199.6 L479.8,200.3 L479.8,201.0 L479.8,201.7 L479.8,202.4 L479.8,203.1 L479.8,203.8 L479.8,204.5 L479.8,205.2 L479.8,205.9 L479.8,206.6 L479.8,207.3 L479.9,208.0 L479.9,208.7 L479.9,209.4 L479.9,210.1 L479.9,210.8 L479.9,211.5 L479.9,212.3 L479.9,213.0 L479.9,213.7 L479.9,214.4 L479.9,215.1 L479.9,215.8 L479.9,216.5 L479.9,217.2 L479.9,218.0 L479.9,218.7 L479.9,219.4 L479.9,220.1 L479.9,220.8 L479.9,221.5 L479.9,222.2 L480.0,222.9 L480.0,223.6 L480.0,224.4 L480.0,225.1 L480.0,225.8 L480.0,226.5 L480.0,227.2 L480.0,227.9 L480.0,228.6 L480.0,229.3 L480.0,230.0 L480.0,229.3 L480.1,228.6 L480.1,227.8 L480.1,227.1 L480.1,226.4 L480.2,225.7 L480.2,224.9 L480.2,224.2 L480.2,223.5 L480.3,222.8 L480.3,222.0 L480.3,221.3 L480.3,220.6 L480.4,219.9 L480.4,219.2 L480.4,218.4 L480.5,217.7 L480.5,217.0 L480.5,216.3 L480.5,215.5 L480.6,214.8 L480.6,214.1 L480.6,213.4 L480.6,212.6 L480.7,211.9 L480.7,211.2 L480.7,210.5 L480.7,209.7 L480.8,209.0 L480.8,208.3 L481.5,208.1 L482.2,208.6 L482.9,206.4 L483.6,206.0 L484.3,205.8 L485.0,205.9 L485.7,207.5 L486.4,206.3 L487.1,206.2 L487.7,205.4 L488.3,207.1 L488.9,205.7 L489.4,207.4 L489.9,207.8 L490.3,209.9 L490.8,209.7 L491.2,210.6 L491.7,211.2 L492.2,210.3 L492.7,212.1 L493.3,210.2 L493.9,211.2 L494.4,213.2 L495.1,214.1 L495.7,213.3 L496.4,210.6 L497.0,211.7 L497.7,211.4 L498.4,209.6 L499.1,209.4 L499.8,209.0 L500.4,209.4 L501.1,208.6 L501.7,208.6 L502.4,210.6 L503.1,208.8 L503.8,208.3 L504.5,207.6 L505.2,206.9 L505.8,206.6 L506.5,206.1 L507.1,206.8 L507.7,206.6 L508.3,207.6 L508.8,207.4 L509.2,205.9 L509.6,206.8 L510.0,207.9 L510.4,208.5 L510.8,210.5 L511.2,210.3 L511.5,212.0 L511.9,211.5 L512.4,212.4 L512.8,213.2 L513.3,211.8 L513.9,214.5 L514.5,214.2 L515.2,214.9 L515.9,216.2 L516.6,215.5 L517.3,216.1 L518.0,215.4 L518.7,213.8 L519.4,213.0 L520.0,213.9 L520.5,214.3 L521.0,215.2 L521.5,215.9 L521.9,216.4 L522.4,214.9 L522.8,215.3 L523.3,218.6 L523.7,219.5 L524.2,219.3 L524.6,219.8 L525.0,219.8 L525.4,220.2 L525.9,222.5 L526.3,221.5 L526.7,222.3 L527.1,223.2 L527.4,223.4 L527.8,225.6 L528.1,226.7 L528.5,226.7 L528.8,225.7 L529.2,227.0 L529.5,226.9 L529.8,229.2 L530.2,230.1 L530.5,229.8 L530.9,232.0 L531.2,231.8 L531.5,234.0 L531.9,234.6 L532.2,234.1 L532.6,234.4 L532.9,236.2 L533.3,235.9 L533.7,236.2 L534.1,236.6 L534.5,236.4 L534.8,237.5 L535.2,237.8 L535.6,238.8 L536.0,238.8 L536.4,239.5 L536.8,240.0 L537.2,241.6 L537.6,242.2 L538.0,243.8 L538.5,242.8 L538.9,242.5 L539.3,244.0 L539.7,243.2 L540.1,246.3 L540.5,246.0 L540.9,245.2 L541.3,248.0 L541.6,246.7 L542.0,249.7 L542.4,250.4 L542.8,248.9 L543.2,250.3 L543.6,249.7 L544.0,248.1 L544.4,249.8 L544.8,250.5 L545.1,252.0 L545.5,251.0 L545.9,252.8 L546.3,255.3 L546.7,253.8 L547.1,256.1 L547.5,255.6 L547.8,256.0 L548.2,256.3 L548.6,257.9 L549.0,258.9 L549.5,260.4 L549.9,259.7 L550.3,260.4 L550.7,261.0 L551.1,261.0 L551.5,263.5 L552.0,264.4 L552.4,262.4 L552.8,264.6 L553.2,264.1 L553.6,263.7 L554.0,266.1 L554.4,266.3 L554.9,267.4 L555.3,266.8 L555.7,269.3 L556.2,268.9 L556.7,270.4 L557.1,269.2 L557.6,271.6 L558.1,270.3 L558.6,271.7 L559.0,272.5 L559.5,271.4 L560.0,272.3 L560.4,272.1 L560.9,270.8 L561.3,272.3 L561.7,273.7 L562.1,276.1 L562.4,278.0 L562.7,276.6 L563.0,278.1 L563.3,278.5 L563.5,279.6 L563.8,280.2 L564.0,279.3 L564.3,281.5 L564.5,281.6 L564.7,284.1 L565.0,283.1 L565.2,283.0 L565.4,283.5 L565.7,285.0 L565.9,284.1 L566.2,286.1 L566.4,286.1 L566.7,286.9 L566.9,285.8 L567.2,287.8 L567.5,288.6 L567.8,289.1 L568.0,291.6 L568.3,291.3 L568.6,292.0 L568.9,290.4 L569.2,292.3 L569.5,290.9 L569.8,292.9 L570.1,293.8 L570.4,295.9 L570.7,296.2 L571.0,297.1 L571.3,296.9 L571.6,297.1 L571.9,296.4 L572.2,297.2 L572.5,297.5 L572.9,298.7 L573.2,301.2 L573.5,302.9 L573.9,304.2 L574.2,304.8 L574.5,302.6 L574.9,304.8 L575.2,304.1 L575.6,306.7 L575.9,308.0 L576.3,307.1 L576.6,309.0 L577.0,308.6 L577.4,309.5 L577.7,309.7 L578.1,311.8 L578.5,311.9 L578.9,311.5 L579.3,311.3 L579.6,312.4 L580.0,310.5 L580.4,313.4 L580.8,312.2 L581.2,312.5 L581.6,312.2 L582.0,312.9 L582.4,314.6 L582.8,313.0 L583.2,313.3 L583.6,314.9 L584.0,314.7 L584.4,316.8 L584.8,317.9 L585.2,318.2 L585.6,320.4 L586.0,320.3 L586.4,321.3 L586.8,321.0 L587.2,324.1 L587.7,322.6 L588.1,323.8 L588.5,322.4 L588.9,323.1 L589.4,322.3 L589.8,324.6 L590.2,325.7 L590.6,327.1 L591.1,327.9 L591.5,327.2 L591.9,329.2 L592.4,328.9 L592.8,331.9 L593.2,332.6 L593.7,331.5 L594.1,329.8 L594.5,329.5 L594.9,330.3 L595.4,331.7 L595.8,333.3 L596.2,335.8 L596.7,334.7 L597.1,335.7 L597.5,334.8 L598.0,337.0 L598.4,335.7 L598.8,336.7 L599.2,338.0 L599.7,338.8 L600.1,339.3 L600.5,341.5 L601.0,340.9 L601.4,339.5 L601.8,341.9 L602.3,342.5 L602.7,342.3 L603.1,345.7 L603.6,343.7 L604.0,345.4 L604.4,344.9 L604.8,345.1 L605.3,346.6 L605.7,345.6 L606.2,344.4 L606.6,346.9 L607.0,346.7 L607.5,346.7 L607.9,348.8 L608.4,348.0 L608.8,350.2 L609.3,349.5 L609.7,348.8 L610.2,350.6 L610.6,348.8 L611.1,350.7 L611.5,352.1 L612.0,352.8 L612.5,354.9 L612.9,354.5 L613.4,355.3 L613.8,356.2 L614.3,355.8 L614.8,357.6 L615.2,357.4 L615.7,357.8 L616.2,357.5 L616.7,359.0 L617.2,358.0 L617.7,359.2 L618.2,359.5 L618.7,359.1 L619.2,361.4 L619.7,360.2 L620.2,362.9 L620.7,361.5 L621.2,362.7 L621.8,364.6 L622.3,364.7 L622.8,363.9 L623.4,364.8 L623.9,363.9 L624.5,364.1 L625.0,366.8 L625.6,367.2 L626.1,367.8 L626.7,367.2 L627.2,367.8 L627.8,367.7 L628.4,368.2 L628.9,370.0 L629.5,369.0 L630.0,369.0 L630.6,370.2 L631.1,369.7 L631.7,370.4 L632.2,368.5 L632.7,369.5 L633.3,370.2 L633.8,371.0 L634.4,371.8 L634.9,375.2 L635.4,376.0 L636.0,376.4 L636.5,375.6 L637.0,376.9 L637.6,376.4 L638.1,374.5 L638.7,376.3 L639.2,376.0 L639.7,376.6 L640.3,377.0 L640.8,375.6 L641.4,376.7 L641.9,376.4 L642.4,377.0 L643.0,378.9 L643.5,378.8 L644.1,378.6 L644.6,381.5 L645.2,382.3 L645.7,383.4 L646.3,382.6 L646.8,382.7 L647.4,382.0 L647.9,383.3 L648.5,384.5 L649.0,382.8 L649.6,385.3 L650.2,384.0 L650.7,384.1 L651.3,386.3 L651.8,384.9 L652.4,386.3 L653.0,388.5 L653.5,386.4 L654.1,387.6 L654.6,388.2 L655.2,388.7 L655.8,389.7 L656.3,389.2 L656.9,391.9 L657.5,390.2 L658.1,389.8 L658.6,392.1 L659.2,391.7 L659.8,392.2 L660.4,394.0 L661.0,391.2 L661.7,392.5 L662.3,393.4 L663.0,394.0 L663.6,392.7 L664.2,394.5 L664.9,394.4 L665.5,395.1 L666.2,395.7 L666.8,396.8 L667.4,394.9 L668.1,395.9 L668.7,398.7 L669.3,398.0 L669.9,397.9 L670.5,396.8 L671.1,397.6 L671.6,396.5 L672.2,396.7 L672.7,398.1 L673.3,399.5 L673.9,399.7 L674.4,400.5 L675.0,399.4 L675.5,399.3 L676.0,401.2 L676.5,401.6 L677.0,402.1 L677.5,401.5 L678.0,403.2 L678.5,404.4 L679.0,404.0 L679.6,405.3 L680.2,406.2 L680.8,406.0 L681.4,406.8 L682.0,404.9 L682.6,405.2 L683.2,406.0 L683.8,405.6 L684.5,404.4 L685.1,404.4 L685.8,405.0 L686.5,406.2 L687.2,406.2 L687.9,407.4 L688.6,406.8 L689.3,408.2 L690.0,406.9 L690.7,409.2 L691.5,407.4 L692.2,406.9 L692.9,408.6 L693.6,406.9 L694.3,407.3 L694.9,407.0 L695.6,407.4 L696.3,408.0 L696.9,407.7 L697.6,408.4 L698.2,407.7 L698.9,408.4 L699.6,408.0 L700.2,408.3 L700.9,409.4 L701.6,410.2 L702.2,409.5 L702.9,408.6 L703.6,408.6 L704.3,410.3 L705.0,410.8 L705.6,408.9 L706.3,409.9 L707.0,411.0 L707.7,410.7 L708.4,410.7 L709.1,410.3 L709.8,410.9 L710.5,412.5 L711.2,411.5 L711.8,413.0 L712.5,412.6 L713.1,411.3 L713.8,413.2 L714.4,411.4 L715.1,413.4 L715.8,412.2 L716.4,412.0 L717.1,412.7 L717.8,413.6 L718.4,414.6 L719.1,413.5 L719.8,413.9 L720.4,416.0 L721.1,414.4 L721.8,416.5 L722.5,416.6 L723.2,416.4 L723.8,414.8 L724.5,415.2 L725.2,414.6 L725.9,417.1 L726.6,418.2 L727.3,418.2 L728.0,417.8 L728.7,416.2 L729.4,418.5 L730.1,417.1 L730.7,417.2 L731.4,417.4 L732.1,418.4 L732.8,418.5 L733.5,419.6 L734.2,417.6 L734.9,415.7 L735.6,418.0 L736.3,416.2 L737.0,417.6 L737.7,418.5 L738.4,420.0 L739.1,418.5 L739.8,419.0 L740.5,417.8 L741.3,417.4 L742.0,418.7 L742.7,417.2 L743.4,417.7 L744.1,419.3 L744.8,418.8 L745.5,419.4 L746.2,420.0 L746.9,421.6 L747.6,421.0 L748.3,420.0 L749.0,419.8 L749.6,418.3 L750.3,419.2 L751.0,421.1 L751.7,421.8 L752.4,418.8 L753.1,419.2 L753.8,418.9 L754.5,419.6 L755.2,420.5 L755.9,421.6 L756.6,422.5 L757.3,421.9 L758.0,423.4 L758.6,420.8 L759.3,422.2 L760.0,420.1 L760.7,422.0 L761.3,422.3 L762.0,423.8 L762.7,422.6 L763.4,421.6 L764.1,421.9 L764.8,421.5 L765.5,422.4 L766.2,423.8 L766.9,423.5 L767.7,424.4 L768.4,423.2 L769.1,423.5 L769.9,422.8 L770.5,423.6 L771.2,422.5 L771.8,422.8 L772.5,423.0 L773.1,424.8 L773.8,423.8 L774.4,424.2 L775.1,423.3 L775.8,426.4 L776.5,424.1 L777.1,425.5 L777.8,424.0 L778.5,426.4 L779.2,424.8 L779.9,425.8 L780.6,425.6 L781.3,424.9 L782.0,425.2 L782.7,424.4 L783.4,426.8 L784.1,425.7 L784.8,425.6 L785.5,426.3 L786.2,426.4 L786.9,426.0 L787.6,426.5 L788.4,426.5 L789.1,426.9 L789.8,427.1 L790.5,427.0 L791.2,427.2 L791.9,424.7 L792.6,426.7 L793.3,426.8 L794.0,427.3 L794.7,428.5 L795.4,429.3 L796.1,429.1 L796.8,428.6 L797.5,428.6 L798.2,430.4 L798.9,429.0 L799.6,430.2 L800.3,429.4 L801.0,427.5 L801.7,427.1 L802.4,427.6 L803.2,427.8 L803.9,428.2 L804.6,427.2 L805.3,427.9 L806.0,427.0 L806.8,428.3 L807.5,429.4 L808.2,428.2 L808.9,429.2 L809.6,426.7 L810.4,427.5 L811.1,427.7 L811.8,427.7 L812.5,429.2 L813.2,428.1 L813.9,428.3 L814.6,427.6 L815.3,429.7 L816.0,428.2 L816.7,428.3 L817.4,429.5 L818.0,428.8 L818.7,430.2 L819.4,428.5 L820.0,430.4 L820.7,428.7 L821.3,431.5 L821.9,432.0 L822.6,432.2 L823.2,431.1 L823.8,431.2 L824.6,431.7 L825.3,431.6 L826.1,431.9 L826.8,430.7 L827.5,431.3 L828.2,433.0 L828.9,432.3 L829.5,433.0 L830.2,432.1 L830.9,432.1 L831.5,433.9 L832.2,432.2 L832.8,434.3 L833.5,432.7 L834.2,433.4 L834.8,433.9 L835.5,434.2 L836.2,434.1 L836.9,433.8 L837.7,434.2 L838.4,431.2 L839.2,431.5 L840.0,431.3 L840.6,431.4 L841.2,434.0 L841.8,434.2 L842.4,435.2 L843.1,435.1 L843.7,434.7 L844.3,432.8 L845.0,434.2 L845.7,433.6 L846.3,433.2 L847.0,434.6 L847.7,434.5 L848.3,434.6 L849.0,435.2 L849.7,433.9 L850.4,433.5 L851.1,434.2 L851.8,434.0 L852.6,433.2 L853.3,435.0 L854.0,432.9 L854.7,433.3 L855.4,434.0 L856.2,435.2 L856.9,434.4 L857.6,436.6 L858.3,436.1 L859.1,435.7 L859.8,434.6 L860.5,436.1 L861.3,434.7 L862.0,434.5 L862.7,435.9 L863.5,434.5 L864.2,436.5 L864.9,435.4 L865.7,436.5 L866.4,437.0 L867.1,435.8 L867.8,436.1 L868.6,433.6 L869.3,434.9 L870.0,434.7 L870.7,435.3 L871.4,434.9 L872.0,435.0 L872.7,435.6 L873.4,435.9 L874.1,436.0 L874.8,437.0 L875.5,436.1 L876.2,434.3 L876.8,434.5 L877.5,435.8 L878.2,436.7 L878.9,436.8 L879.6,434.8 L880.3,436.5 L881.0,436.6 L881.7,436.1 L882.4,436.5 L883.1,436.4 L883.8,437.7 L884.5,436.4 L885.2,437.5 L885.9,437.2 L886.6,437.1 L887.3,436.8 L888.0,436.3 L888.7,435.1 L889.4,435.8 L890.1,437.2 L890.8,438.8 L891.4,438.5 L892.1,439.2 L892.8,437.0 L893.5,437.8 L894.2,438.1 L894.9,437.4 L895.6,438.6 L896.3,437.7 L897.0,436.7 L897.7,438.4 L898.4,437.9 L899.1,438.6 L899.8,438.8 L900.5,439.2 L901.2,439.1 L901.9,440.7 L902.6,440.7 L903.3,439.2 L904.0,439.0 L904.7,439.0 L905.4,437.6 L906.1,438.4 L906.7,439.9 L907.4,439.0 L908.1,438.2 L908.8,439.0 L909.5,438.7 L910.2,438.5 L910.9,439.6 L911.6,437.9 L912.2,438.9 L912.9,439.2 L913.6,440.5 L914.3,440.6 L915.0,438.8 L915.7,440.1 L916.4,439.0 L917.0,439.8 L917.7,439.1 L918.4,439.7 L919.1,438.5 L919.8,439.2 L920.5,439.8 L921.2,438.4 L921.9,440.4 L922.6,439.0 L923.2,439.3 L923.9,440.4 L924.6,441.6 L925.3,440.4 L926.0,439.1 L926.7,441.6 L927.4,439.3 L928.1,439.8 L928.8,441.0 L929.5,440.9 L930.2,441.2 L930.9,438.8 L931.6,438.2 L932.3,440.9 L933.1,439.6 L933.8,440.6 L934.5,440.8 L935.2,441.1 L935.9,443.5 L936.5,441.2 L937.2,440.6 L937.9,440.2 L938.6,439.5 L939.3,440.3 L939.9,440.6 L940.6,440.2 L941.3,442.0 L942.0,441.6 L942.7,441.7 L943.4,440.6 L944.1,441.8 L944.8,442.5 L945.5,441.5 L946.2,442.3 L946.9,444.0 L947.6,443.3 L948.3,441.2 L948.9,441.9 L949.6,441.0 L950.4,441.4 L951.1,442.1 L951.8,442.8 L952.5,443.0 L953.2,442.6 L953.9,444.1 L954.6,443.1 L955.3,444.4 L956.0,444.0 L956.7,444.2 L957.4,443.5 L958.1,443.7 L958.8,443.3 L959.5,441.3 L960.2,441.0 L960.9,443.5 L961.6,443.4 L962.3,443.5 L963.0,443.9 L963.7,443.3 L964.4,443.9 L965.1,444.3 L965.8,442.7 L966.5,444.8 L967.2,444.8 L967.9,445.5 L968.6,445.8 L969.3,444.6 L970.0,446.3 L970.6,446.0 L971.3,446.1 L972.0,443.2 L972.7,443.3 L973.4,442.9 L974.1,445.1 L974.8,444.4 L975.6,445.8 L976.3,444.1 L977.0,446.6 L977.7,445.7 L978.4,448.0 L979.1,447.8 L979.8,448.0 L980.5,446.1 L981.3,445.4 L982.0,443.8 L982.7,445.0 L983.4,446.2 L984.1,446.2 L984.8,445.8 L985.5,446.2 L986.2,445.5 L987.0,445.8 L987.7,445.4 L988.4,446.1 L989.1,446.8 L989.8,447.2 L990.5,447.9 L991.2,445.4 L991.9,446.4 L992.6,446.8 L993.3,447.0 L994.0,448.4 L994.7,447.3 L995.4,447.6 L996.1,445.9 L996.8,446.1 L997.5,447.7 L998.2,445.9 L998.9,447.1 L999.6,447.1 L1000.3,448.4 L1001.0,448.6 L1001.7,445.5 L1002.4,445.0 L1003.0,445.6 L1003.7,447.4 L1004.4,446.6 L1005.1,446.1 L1005.8,445.5 L1006.4,444.6 L1007.1,444.2 L1007.8,445.4 L1008.5,445.6 L1009.2,445.5 L1010.0,447.5 L1010.7,446.3 L1011.4,449.3 L1012.1,446.2 L1012.8,446.3 L1013.5,448.1 L1014.3,446.2 L1015.0,447.1 L1015.7,448.8 L1016.4,447.5 L1017.1,447.5 L1017.8,448.1 L1018.5,449.0 L1019.2,448.5 L1019.9,448.0 L1020.6,448.9 L1021.3,449.1 L1022.0,448.0 L1022.7,448.0 L1023.4,447.4 L1024.1,448.3 L1024.8,446.0 L1025.5,446.7 L1026.1,447.9 L1026.8,449.5 L1027.5,448.7 L1028.2,448.4 L1028.9,449.2 L1029.6,447.5 L1030.3,447.9 L1031.0,449.7 L1031.6,448.5 L1032.3,449.8 L1033.0,450.6 L1033.7,448.2 L1034.4,448.5 L1035.1,450.3 L1035.7,449.3 L1036.4,448.8 L1037.1,448.5 L1037.8,449.0 L1038.5,449.4 L1039.2,448.0 L1039.9,450.7 L1040.6,447.6 L1041.3,450.1 L1042.0,450.8 L1042.6,450.7 L1043.3,451.0 L1044.0,450.8 L1044.7,450.7 L1045.4,450.9 L1046.0,449.0 L1046.7,449.0 L1047.4,450.0 L1048.0,451.5 L1048.7,449.4 L1049.4,449.3 L1050.1,451.7 L1050.7,450.7 L1051.4,453.5 L1052.1,452.2 L1052.8,452.1 L1053.4,450.3 L1054.1,451.6 L1054.8,449.7 L1055.5,452.1 L1056.2,451.2 L1056.8,451.0 L1057.5,452.4 L1058.2,452.6 L1058.9,451.3 L1059.6,452.1 L1060.3,452.9 L1061.0,451.2 L1061.8,450.3 L1062.5,449.7 L1063.2,451.1 L1063.9,449.5 L1064.7,451.5 L1065.4,452.6 L1066.0,451.8 L1066.7,451.4 L1067.3,450.1 L1068.0,449.5 L1068.7,451.3 L1069.3,452.7 L1070.0,451.4 L1070.7,453.8 L1071.3,453.4 L1072.0,452.8 L1072.7,454.0 L1073.4,452.2 L1074.0,452.8 L1074.7,450.9 L1075.4,450.0 L1076.1,452.7 L1076.8,451.3 L1077.5,453.2 L1078.2,451.5 L1078.9,452.4 L1079.6,454.1 L1080.3,455.0 L1081.0,453.0 L1081.7,453.5 L1082.4,453.4 L1083.1,452.7 L1083.8,452.2 L1084.6,453.5 L1085.3,453.1 L1086.0,452.8 L1086.7,452.6 L1087.4,453.5 L1088.1,452.1 L1088.8,452.4 L1089.5,452.5 L1090.3,452.5 L1091.0,454.0 L1091.7,454.3 L1092.4,452.8 L1093.1,453.7 L1093.8,452.3 L1094.5,452.5 L1095.2,451.4 L1096.0,451.9 L1096.7,451.9 L1097.4,453.0 L1098.1,451.2 L1098.8,454.1 L1099.5,452.9 L1100.2,454.1 L1100.9,453.4 L1101.6,451.9 L1102.3,453.0 L1103.0,452.7 L1103.7,453.3 L1104.4,452.4 L1105.1,453.1 L1105.8,453.9 L1106.5,452.7 L1107.2,453.5 L1107.9,454.2 L1108.6,454.2 L1109.3,453.2 L1109.9,452.6 L1110.6,453.6 L1111.3,455.9 L1112.0,454.2 L1112.7,455.2 L1113.4,455.4 L1114.1,454.9 L1114.8,454.7 L1115.5,453.3 L1116.2,454.5 L1116.9,453.7 L1117.6,456.3 L1118.3,454.8 L1119.0,454.3 L1119.7,454.8 L1120.4,454.7 L1121.1,454.3 L1121.8,455.9 L1122.4,455.5 L1123.1,454.6 L1123.8,454.9 L1124.5,455.8 L1125.2,454.7 L1125.9,454.8 L1126.6,455.3 L1127.3,456.5 L1128.0,455.7 L1128.7,454.6 L1129.4,454.6 L1130.1,454.8 L1130.8,456.2 L1131.5,456.0 L1132.2,453.6 L1132.9,456.2 L1133.6,453.3 L1134.2,454.4 L1134.9,455.7 L1135.6,456.9 L1136.3,457.7 L1137.0,456.3 L1137.7,455.8 L1138.4,456.3 L1139.1,454.9 L1139.8,456.6 L1140.5,456.7 L1141.2,456.4 L1141.9,457.4 L1142.6,457.4 L1143.3,457.3 L1144.0,457.1 L1144.7,456.2 L1145.4,456.2 L1146.1,456.3 L1146.8,454.6 L1147.5,455.6 L1148.2,456.3 L1148.9,456.0 L1149.5,456.7 L1150.2,455.7 L1150.9,455.2 L1151.6,455.5 L1152.3,456.1 L1153.0,456.3 L1153.7,456.5 L1154.4,457.4 L1155.1,456.0 L1155.8,456.9 L1156.5,458.2 L1157.2,458.2 L1157.9,458.9 L1158.6,457.1 L1159.3,458.5 L1160.0,456.2 L1160.7,455.4 L1161.4,457.2 L1162.1,455.5 L1162.8,458.3 L1163.5,458.2 L1164.2,458.6 L1164.9,460.4 L1165.6,459.3 L1166.3,457.6 L1167.0,460.1 L1167.7,457.5 L1168.4,459.1 L1169.0,459.1 L1169.7,458.3 L1170.4,458.3 L1171.1,459.8 L1171.8,459.4 L1172.5,459.1 L1173.2,461.0 L1173.9,459.1 L1174.6,457.8 L1175.3,458.2 L1176.0,456.6 L1176.7,458.0 L1177.4,458.6 L1178.1,456.7 L1178.8,458.5 L1179.5,458.4 L1180.2,460.2 L1180.9,459.3 L1181.6,459.6 L1182.3,460.2 L1183.0,460.7 L1183.7,460.0 L1184.5,459.9 L1185.2,459.3 L1185.9,458.5 L1186.6,460.4 L1187.3,459.2 L1188.1,458.9 L1188.8,459.0 L1189.5,457.9 L1190.2,458.3 L1190.9,460.0 L1191.7,458.8 L1192.4,459.2 L1193.1,460.2 L1193.8,460.5 L1194.5,459.7 L1195.3,459.9 L1196.0,462.1 L1196.7,460.1 L1197.4,460.4 L1198.1,461.1 L1198.8,459.6 L1199.6,459.1 L1200.3,460.0 L1201.0,461.6 L1201.7,461.1 L1202.4,461.7 L1203.1,459.2 L1203.8,460.8 L1204.5,458.6 L1205.2,459.6 L1205.9,460.2 L1206.5,460.8 L1207.2,462.8 L1207.9,461.4 L1208.6,460.4 L1209.2,460.8 L1209.9,460.3 L1210.6,459.5 L1211.2,460.3 L1211.9,460.7 L1212.5,463.1 L1213.2,463.0 L1213.8,462.4 L1214.4,464.3 L1215.1,461.5 L1215.7,461.2 L1216.5,460.2 L1217.2,461.2 L1218.0,463.1 L1218.7,462.9 L1219.5,460.9 L1220.2,460.7 L1221.0,461.0 L1221.7,460.0 L1222.5,462.0 L1223.2,461.9 L1223.9,463.4 L1224.6,463.3 L1225.3,463.5 L1226.1,462.8 L1226.8,463.6 L1227.5,464.1 L1228.2,464.8 L1228.9,462.3 L1229.5,463.8 L1230.2,463.8 L1230.9,463.4 L1231.6,462.9 L1232.3,462.8 L1232.9,461.2 L1233.6,462.1 L1234.3,464.6 L1234.9,465.6 L1235.6,464.8 L1236.2,465.3 L1236.9,464.7 L1237.5,466.0 L1238.1,464.7 L1238.8,463.7 L1239.4,465.5 L1240.0,462.7 L1240.7,465.9 L1241.5,466.7 L1242.2,467.2 L1242.9,468.0 L1243.6,466.9 L1244.3,464.4 L1244.9,465.4 L1245.6,464.6 L1246.2,465.0 L1246.9,466.6 L1247.5,465.1 L1248.2,466.3 L1248.8,465.8 L1249.5,466.5 L1250.1,466.7 L1250.8,466.3 L1251.5,466.8 L1252.1,466.2 L1252.8,467.2 L1253.5,468.9 L1254.2,467.4 L1255.0,468.0 L1255.7,468.5 L1256.3,467.3 L1257.0,466.1 L1257.6,468.0 L1258.3,468.5 L1259.0,468.8 L1259.7,469.3 L1260.4,468.7 L1261.1,469.4 L1261.8,469.3 L1262.6,470.6 L1263.3,468.7 L1264.0,467.3 L1264.8,468.0 L1265.5,468.4 L1266.3,468.9 L1267.0,469.7 L1267.8,469.1 L1268.5,469.2 L1269.2,468.4 L1270.0,469.3 L1270.7,469.1 L1271.4,470.2 L1272.2,469.8 L1272.9,469.0 L1273.6,468.9 L1274.2,468.9 L1274.9,469.8 L1275.6,471.0 L1276.2,472.1 L1276.9,472.8 L1277.5,470.9 L1278.1,472.1 L1278.6,471.9 L1279.2,471.1 L1280.0,470.1 L1280.7,472.1 L1281.4,471.1 L1282.1,470.6 L1282.8,468.9 L1283.5,470.8 L1284.1,470.5 L1284.7,469.2 L1285.3,469.9 L1286.0,468.7 L1286.6,468.2 L1287.2,468.9 L1287.8,469.0 L1288.4,467.3 L1289.0,466.7 L1289.6,467.1 L1290.3,466.7 L1290.9,467.3 L1291.6,467.0 L1292.2,469.0 L1292.9,469.5 L1293.5,468.8 L1294.2,469.3 L1294.8,468.5 L1295.5,470.1 L1296.1,470.0 L1296.8,468.8 L1297.4,470.0 L1298.1,470.6 L1298.7,471.9 L1299.2,472.1 L1299.7,471.0 L1300.2,473.6 L1300.7,473.2 L1301.1,474.8 L1301.6,477.6 L1302.1,476.6 L1302.6,478.2 L1303.3,478.1 L1304.0,477.2 L1304.7,478.7 L1305.4,478.2 L1306.1,476.8 L1306.8,476.5 L1307.5,477.5 L1308.2,479.2 L1308.9,480.0 L1309.6,478.3 L1310.3,477.0 L1311.0,476.6 L1311.7,477.0 L1312.4,478.7 L1313.1,477.1 L1313.7,477.6 L1314.4,476.7 L1315.1,477.3 L1315.8,478.3 L1316.5,478.5 L1317.2,477.6 L1317.9,478.8 L1318.6,478.4 L1319.3,478.9 L1320.0,478.9 L1320.7,480.1 L1321.4,478.4 L1322.1,479.0 L1322.8,479.5 L1323.5,480.1 L1324.2,480.9 L1324.9,479.6 L1325.6,480.6 L1326.3,481.4 L1327.0,480.5 L1327.6,481.7 L1328.3,479.8 L1329.0,480.8 L1329.7,481.5 L1330.4,481.6 L1331.1,480.0 L1331.8,482.1 L1332.4,480.8 L1333.1,482.8 L1333.8,482.0 L1334.5,483.2 L1335.2,481.3 L1335.9,482.4 L1336.6,481.1 L1337.3,481.2 L1338.0,481.1 L1338.7,481.1 L1339.4,482.2 L1340.1,484.0 L1340.8,483.7 L1341.5,482.6 L1342.2,481.7 L1342.9,482.8 L1343.7,482.5 L1344.4,482.6 L1345.1,483.1 L1345.7,482.6 L1346.4,483.9 L1347.0,483.0 L1347.7,483.1 L1348.4,482.2 L1349.0,483.2 L1349.7,485.2 L1350.4,484.2 L1351.1,484.1 L1351.7,484.7 L1352.4,483.1 L1353.1,485.2 L1353.8,485.4 L1354.5,483.3 L1355.2,485.1 L1355.9,484.6 L1356.6,484.0 L1357.3,484.5 L1358.0,485.1 L1358.7,485.9 L1359.4,484.0 L1360.1,485.2 L1360.8,486.7 L1361.5,485.6 L1362.2,484.7 L1362.9,487.2 L1363.6,485.7 L1364.3,485.5 L1365.0,486.8 L1365.7,485.3 L1366.4,485.9 L1367.0,486.2 L1367.7,485.1 L1368.4,486.1 L1369.1,486.9 L1369.8,485.9 L1370.5,487.9 L1371.2,487.8 L1371.9,487.1 L1372.6,488.1 L1373.2,488.1 L1373.9,486.8 L1374.6,487.7 L1375.3,487.1 L1376.0,487.7 L1376.7,487.5 L1377.4,488.1 L1378.1,487.4 L1378.7,489.1 L1379.4,488.1 L1380.1,488.5 L1380.8,489.8 L1381.5,487.7 L1382.2,489.8 L1382.9,488.7 L1383.5,490.8 L1384.2,490.9 L1384.9,488.3 L1385.6,489.6 L1386.3,490.0 L1387.0,488.4 L1387.7,489.9 L1388.4,488.9 L1389.0,489.1 L1389.7,490.8 L1390.4,489.8 L1391.1,490.5 L1391.8,489.5 L1392.5,490.5 L1393.2,492.2 L1393.8,490.4 L1394.5,491.0 L1395.2,489.0 L1395.9,490.5 L1396.6,490.3 L1397.3,492.1 L1398.0,490.7 L1398.7,492.9 L1399.4,492.2 L1400.1,492.2 L1400.8,491.4 L1401.5,493.1 L1402.2,491.2 L1402.9,491.6 L1403.6,490.0 L1404.4,491.8 L1405.1,491.4 L1405.8,491.7 L1406.5,491.9 L1407.2,492.0 L1407.9,493.2 L1408.6,493.5 L1409.4,492.8 L1410.1,493.3 L1410.8,492.3 L1411.5,493.8 L1412.2,492.4 L1412.9,492.8 L1413.6,492.3 L1414.3,493.3 L1415.0,495.2 L1415.6,494.1 L1416.3,493.8 L1417.0,491.8 L1417.6,492.7 L1418.3,493.9 L1419.0,495.5 L1419.6,494.7 L1420.2,495.4 L1420.9,495.6 L1421.5,496.6 L1422.1,497.0 L1422.7,494.9 L1423.5,494.2 L1424.2,494.6 L1424.9,494.4 L1425.6,494.4 L1426.3,495.8 L1427.0,494.5 L1427.7,495.4 L1428.3,496.2 L1429.0,495.0 L1429.6,497.4 L1430.3,497.7 L1430.9,496.1 L1431.6,495.3 L1432.2,496.4 L1432.9,496.3 L1433.5,494.6 L1434.2,495.6 L1434.8,496.4 L1435.5,496.3 L1436.2,499.2 L1436.9,497.7 L1437.7,498.7 L1438.4,498.9 L1439.0,497.7 L1439.7,499.8 L1440.3,498.7 L1440.9,500.4 L1441.6,498.0 L1442.3,499.2 L1442.9,498.3 L1443.6,498.2 L1444.3,499.0 L1445.0,499.0 L1445.7,497.4 L1446.4,497.6 L1447.1,500.4 L1447.8,499.4 L1448.5,500.9 L1449.2,500.3 L1449.9,500.5 L1450.6,497.9 L1451.4,498.8 L1452.1,499.7 L1452.8,498.9 L1453.5,500.3 L1454.2,500.9 L1454.9,501.2 L1455.7,499.3 L1456.4,500.9 L1457.1,500.5 L1457.8,498.4 L1458.5,500.9 L1459.2,499.7 L1459.9,499.5 L1460.5,500.4 L1461.2,500.7 L1461.9,500.0 L1462.6,502.2 L1463.3,501.8 L1464.0,499.9 L1464.8,502.3 L1465.5,499.9 L1466.2,500.7 L1466.9,502.8 L1467.6,500.6 L1468.3,500.2 L1469.0,500.4 L1469.7,501.4 L1470.4,501.3 L1471.1,502.6 L1471.8,500.3 L1472.5,501.8 L1473.2,503.2 L1473.9,502.5 L1474.6,502.1 L1475.3,501.6 L1476.0,503.1 L1476.7,500.4 L1477.4,502.3 L1478.1,501.8 L1478.7,503.1 L1479.4,503.8 L1480.1,504.3 L1480.8,503.6 L1481.5,504.1 L1482.1,503.2 L1482.8,503.7 L1483.5,505.0 L1484.2,504.0 L1485.0,504.1 L1485.7,504.7 L1486.4,504.4 L1487.1,505.8 L1487.8,505.6 L1488.5,504.8 L1489.1,505.5 L1489.8,503.6 L1490.5,504.0 L1491.2,506.7 L1491.9,506.5 L1492.6,505.4 L1493.3,505.4 L1494.0,505.1 L1494.6,507.3 L1495.3,506.3 L1496.0,506.7 L1496.7,507.2 L1497.4,506.7 L1498.1,508.0 L1498.8,506.7 L1499.6,508.0 L1500.3,506.5 L1501.0,506.6 L1501.7,506.8 L1502.4,504.7 L1503.0,506.0 L1503.7,507.1 L1504.4,506.5 L1505.1,507.8 L1505.8,507.2 L1506.5,507.4 L1507.2,506.9 L1507.9,505.0 L1508.6,506.9 L1509.3,505.0 L1510.0,506.1 L1510.7,505.2 L1511.4,506.0 L1512.2,507.5 L1512.9,506.7 L1513.6,508.2 L1514.3,508.4 L1515.0,507.5 L1515.7,507.2 L1516.4,508.6 L1517.1,508.8 L1517.8,507.4 L1518.5,507.1 L1519.2,508.6 L1519.9,507.5 L1520.5,507.0 L1521.2,505.8 L1521.9,507.2 L1522.6,508.7 L1523.3,506.4 L1524.1,509.0 L1524.8,508.6 L1525.5,509.3 L1526.2,509.2 L1526.9,508.9 L1527.6,506.7 L1528.3,509.0 L1529.0,508.3 L1529.7,507.7 L1530.4,508.6 L1531.1,509.6 L1531.7,508.1 L1532.4,507.8 L1533.1,509.4 L1533.8,509.6 L1534.5,510.7 L1535.2,509.6 L1535.9,511.3 L1536.6,510.9 L1537.3,509.0 L1538.0,510.0 L1538.8,511.7 L1539.5,509.3 L1540.2,511.1 L1540.9,511.4 L1541.5,510.3 L1542.2,509.8 L1542.9,510.2 L1543.6,510.1 L1544.3,511.7 L1545.0,510.3 L1545.6,512.0 L1546.3,511.8 L1547.0,512.4 L1547.7,511.8 L1548.4,510.3 L1549.1,510.5 L1549.8,511.3 L1550.5,510.6 L1551.2,509.6 L1551.9,509.6 L1552.6,510.8 L1553.3,511.7 L1554.0,511.1 L1554.7,511.9 L1555.4,511.3 L1556.1,512.7 L1556.8,511.6 L1557.5,511.5 L1558.2,512.8 L1559.0,510.2 L1559.7,511.8 L1560.4,511.1 L1561.1,510.6 L1561.8,511.8 L1562.4,512.4 L1563.1,513.2 L1563.8,513.3 L1564.5,512.2 L1565.2,512.1 L1565.9,513.2 L1566.6,512.1 L1567.3,513.7 L1568.0,512.5 L1568.7,512.4 L1569.3,513.1 L1570.0,512.7 L1570.7,511.8 L1571.4,513.8 L1572.2,512.3 L1572.9,512.8 L1573.6,513.8 L1574.3,513.7 L1575.0,514.0 L1575.7,511.8 L1576.4,513.6 L1577.1,512.1 L1577.7,512.3 L1578.4,512.5 L1579.1,513.1 L1579.8,510.7 L1580.5,513.7 L1581.2,512.4 L1581.9,512.8 L1582.6,513.6 L1583.3,513.8 L1583.9,513.7 L1584.6,515.0 L1585.3,515.0 L1586.0,514.7 L1586.7,515.1 L1587.4,513.9 L1588.1,512.2 L1588.8,512.1 L1589.5,512.9 L1590.2,513.1 L1590.9,513.5 L1591.6,513.9 L1592.3,514.1 L1593.0,513.3 L1593.7,513.8 L1594.4,514.1 L1595.1,512.2 L1595.8,515.4 L1596.5,513.9 L1597.1,513.4 L1597.8,512.4 L1598.5,514.0 L1599.2,514.1 L1599.9,513.2 L1600.6,515.0 L1601.3,511.9 L1601.9,514.4 L1602.6,513.9 L1603.3,513.1 L1604.0,513.2 L1604.7,512.5 L1605.4,514.5 L1606.1,513.7 L1606.8,516.2 L1607.5,513.8 L1608.2,515.2 L1608.9,513.3 L1609.6,511.8 L1610.3,514.3 L1611.0,513.7 L1611.7,513.8 L1612.4,515.1 L1613.1,514.4 L1613.8,515.6 L1614.5,516.0 L1615.1,515.0 L1615.8,515.0 L1616.5,514.3 L1617.2,516.8 L1617.9,515.8 L1618.6,515.9 L1619.3,515.7 L1620.0,515.1 L1620.7,516.6 L1621.4,514.8 L1622.1,515.1 L1622.8,513.7 L1623.5,514.5 L1624.2,515.5 L1624.9,515.8 L1625.6,515.7 L1626.3,515.4 L1627.0,515.4 L1627.7,515.8 L1628.4,514.8 L1629.2,516.2 L1629.9,514.2 L1630.7,515.0 L1631.4,515.5 L1632.2,515.8 L1633.0,515.9 L1633.7,514.4 L1634.5,513.8 L1635.2,514.4 L1636.0,514.7 L1636.8,514.5 L1637.5,516.3 L1638.3,515.1 L1639.0,514.0 L1639.7,515.2 L1640.4,516.0 L1641.1,516.0 L1641.8,517.8 L1642.5,518.2 L1643.2,516.9 L1643.8,517.3 L1644.4,517.7 L1645.0,516.6 L1645.6,515.7 L1646.2,514.1 L1646.7,516.1 L1647.2,515.9 L1648.0,515.1 L1648.8,514.4 L1649.4,515.8 L1650.1,517.3 L1650.7,516.1 L1651.3,516.8 L1651.9,515.0 L1652.5,512.5 L1653.1,514.4 L1653.7,515.6" stroke="#000" stroke-width="4.6"/>
<path d="M321.0,1163.0 L321.1,1162.2 L321.2,1161.4 L321.2,1160.7 L321.2,1160.0 L321.3,1159.3 L321.3,1158.6 L321.3,1157.9 L321.3,1157.2 L321.3,1156.5 L321.3,1155.8 L321.4,1155.1 L321.4,1154.4 L321.4,1153.7 L321.4,1153.0 L321.4,1152.2 L321.4,1151.5 L321.5,1150.8 L321.5,1150.1 L321.5,1149.4 L321.5,1148.7 L321.5,1148.0 L321.6,1147.3 L321.6,1146.5 L321.6,1145.8 L321.6,1145.1 L321.6,1144.4 L321.6,1143.7 L321.7,1143.0 L321.7,1142.2 L321.7,1141.5 L321.7,1140.8 L321.7,1140.1 L321.7,1139.4 L321.8,1138.7 L321.8,1137.9 L321.8,1137.2 L321.8,1136.5 L321.8,1135.8 L321.8,1135.1 L321.9,1134.3 L321.9,1133.6 L321.9,1132.9 L321.9,1132.2 L321.9,1131.4 L321.9,1130.7 L322.0,1130.0 L322.0,1129.3 L322.0,1128.5 L322.0,1127.8 L322.0,1127.1 L322.0,1126.4 L322.1,1125.7 L322.1,1124.9 L322.1,1124.2 L322.1,1123.5 L322.1,1122.8 L322.1,1122.0 L322.2,1121.3 L322.2,1120.6 L322.2,1119.9 L322.2,1119.1 L322.2,1118.4 L322.3,1117.7 L322.3,1117.0 L322.3,1116.2 L322.3,1115.5 L322.3,1114.8 L322.3,1114.1 L322.4,1113.3 L322.4,1112.6 L322.4,1111.9 L322.4,1111.2 L322.4,1110.5 L322.4,1109.7 L322.5,1109.0 L322.5,1108.3 L322.5,1107.6 L322.5,1106.9 L322.5,1106.1 L322.5,1105.4 L322.6,1104.7 L322.6,1104.0 L322.6,1103.3 L322.6,1102.5 L322.6,1101.8 L322.6,1101.1 L322.7,1100.4 L322.7,1099.7 L322.7,1099.0 L322.7,1098.2 L322.7,1097.5 L322.7,1096.8 L322.8,1096.1 L322.8,1095.4 L322.8,1094.7 L322.8,1094.0 L322.8,1093.3 L322.9,1092.5 L322.9,1091.8 L322.9,1091.1 L322.9,1090.4 L322.9,1089.7 L322.9,1089.0 L323.0,1088.3 L323.0,1087.6 L323.0,1086.9 L323.0,1086.2 L323.0,1085.5 L323.0,1084.8 L323.1,1084.1 L323.1,1083.4 L323.1,1082.7 L323.1,1082.0 L323.1,1081.3 L323.2,1080.6 L323.2,1079.9 L323.2,1079.2 L323.2,1078.5 L323.2,1077.8 L323.2,1077.1 L323.3,1076.5 L323.3,1075.8 L323.3,1075.1 L323.3,1074.4 L323.3,1073.7 L323.4,1073.0 L323.4,1072.3 L323.4,1071.7 L323.4,1071.0 L323.4,1070.3 L323.4,1069.6 L323.5,1069.0 L323.5,1068.3 L323.5,1067.6 L323.5,1066.9 L323.5,1066.3 L323.6,1065.6 L323.6,1064.9 L323.6,1064.3 L323.6,1063.6 L323.6,1062.9 L323.6,1062.3 L323.7,1061.6 L323.7,1061.0 L323.7,1060.3 L323.7,1059.6 L323.7,1059.0 L323.8,1058.3 L323.8,1057.7 L323.8,1057.0 L323.8,1056.4 L323.8,1055.7 L323.9,1055.1 L323.9,1054.5 L323.9,1053.8 L323.9,1053.2 L323.9,1052.5 L324.0,1051.9 L324.0,1051.3 L324.0,1050.6 L324.0,1050.0 L324.0,1049.4 L324.1,1048.7 L324.1,1048.1 L324.1,1047.5 L324.1,1046.7 L324.2,1046.0 L324.2,1045.2 L324.2,1044.4 L324.2,1043.7 L324.3,1042.9 L324.3,1042.1 L324.3,1041.4 L324.3,1040.6 L324.4,1039.9 L324.4,1039.1 L324.4,1038.4 L324.4,1037.6 L324.5,1036.9 L324.5,1036.2 L324.5,1035.4 L324.5,1034.7 L324.6,1034.0 L324.6,1033.2 L324.6,1032.5 L324.7,1031.8 L324.7,1031.0 L324.7,1030.3 L324.7,1029.6 L324.8,1028.9 L324.8,1028.2 L324.8,1027.5 L324.8,1026.7 L324.9,1026.0 L324.9,1025.3 L324.9,1024.6 L325.0,1023.9 L325.0,1023.2 L325.0,1022.5 L325.0,1021.8 L325.1,1021.1 L325.1,1020.4 L325.1,1019.7 L325.2,1019.0 L325.2,1018.3 L325.2,1017.6 L325.2,1016.9 L325.3,1016.3 L325.3,1015.6 L325.3,1014.9 L325.4,1014.2 L325.4,1013.5 L325.4,1012.8 L325.4,1012.1 L325.5,1011.5 L325.5,1010.8 L325.5,1010.1 L325.6,1009.4 L325.6,1008.7 L325.6,1008.0 L325.6,1007.4 L325.7,1006.7 L325.7,1006.0 L325.7,1005.3 L325.8,1004.7 L325.8,1004.0 L325.8,1003.3 L325.8,1002.6 L325.9,1002.0 L325.9,1001.3 L325.9,1000.6 L326.0,999.9 L326.0,999.3 L326.0,998.6 L326.0,997.9 L326.1,997.2 L326.1,996.6 L326.1,995.9 L326.2,995.2 L326.2,994.5 L326.2,993.9 L326.2,993.2 L326.3,992.5 L326.3,991.8 L326.3,991.2 L326.3,990.5 L326.4,989.8 L326.4,989.1 L326.4,988.4 L326.5,987.8 L326.5,987.1 L326.5,986.4 L326.5,985.7 L326.6,985.0 L326.6,984.4 L326.6,983.7 L326.7,983.0 L326.7,982.3 L326.7,981.6 L326.7,980.9 L326.8,980.2 L326.8,979.6 L326.8,978.9 L326.8,978.2 L326.9,977.5 L326.9,976.8 L326.9,976.1 L326.9,975.4 L327.0,974.7 L327.0,974.0 L327.0,973.3 L327.1,972.6 L327.1,971.9 L327.1,971.2 L327.1,970.5 L327.2,969.8 L327.2,969.1 L327.2,968.4 L327.2,967.7 L327.3,967.0 L327.3,966.2 L327.3,965.5 L327.3,964.8 L327.3,964.1 L327.4,963.4 L327.4,962.7 L327.4,962.0 L327.4,961.3 L327.5,960.6 L327.5,959.8 L327.5,959.1 L327.5,958.4 L327.6,957.7 L327.6,957.0 L327.6,956.3 L327.6,955.6 L327.6,954.8 L327.7,954.1 L327.7,953.4 L327.7,952.7 L327.7,952.0 L327.8,951.3 L327.8,950.5 L327.8,949.8 L327.8,949.1 L327.8,948.4 L327.9,947.7 L327.9,947.0 L327.9,946.2 L327.9,945.5 L328.0,944.8 L328.0,944.1 L328.0,943.4 L328.0,942.7 L328.0,941.9 L328.1,941.2 L328.1,940.5 L328.1,939.8 L328.1,939.1 L328.2,938.4 L328.2,937.7 L328.2,936.9 L328.2,936.2 L328.2,935.5 L328.3,934.8 L328.3,934.1 L328.3,933.4 L328.3,932.7 L328.4,932.0 L328.4,931.3 L328.4,930.5 L328.4,929.8 L328.4,929.1 L328.5,928.4 L328.5,927.7 L328.5,927.0 L328.5,926.3 L328.6,925.6 L328.6,924.9 L328.6,924.2 L328.6,923.5 L328.7,922.8 L328.7,922.1 L328.7,921.4 L328.7,920.7 L328.8,920.0 L328.8,919.3 L328.8,918.6 L328.8,918.0 L328.9,917.3 L328.9,916.6 L328.9,915.9 L328.9,915.2 L329.0,914.5 L329.0,913.8 L329.0,913.2 L329.1,912.5 L329.1,911.8 L329.1,911.1 L329.1,910.4 L329.2,909.8 L329.2,909.1 L329.2,908.4 L329.3,907.8 L329.3,907.1 L329.3,906.4 L329.3,905.8 L329.4,905.1 L329.4,904.4 L329.4,903.8 L329.5,903.1 L329.5,902.5 L329.5,901.8 L329.6,901.2 L329.6,900.5 L329.6,899.8 L329.7,899.0 L329.7,898.3 L329.8,897.5 L329.8,896.8 L329.8,896.0 L329.9,895.3 L329.9,894.6 L330.0,893.8 L330.0,893.1 L330.0,892.4 L330.1,891.6 L330.1,890.9 L330.2,890.2 L330.2,889.5 L330.3,888.7 L330.3,888.0 L330.3,887.3 L330.4,886.6 L330.4,885.8 L330.5,885.1 L330.5,884.4 L330.6,883.7 L330.6,883.0 L330.7,882.3 L330.7,881.6 L330.7,880.8 L330.8,880.1 L330.8,879.4 L330.9,878.7 L330.9,878.0 L331.0,877.3 L331.0,876.6 L331.1,875.9 L331.1,875.2 L331.2,874.5 L331.2,873.8 L331.3,873.1 L331.3,872.4 L331.4,871.7 L331.4,871.0 L331.5,870.3 L331.5,869.6 L331.6,869.0 L331.6,868.3 L331.7,867.6 L331.7,866.9 L331.8,866.2 L331.8,865.5 L331.9,864.8 L331.9,864.2 L331.9,863.5 L332.0,862.8 L332.0,862.1 L332.1,861.4 L332.1,860.8 L332.2,860.1 L332.2,859.4 L332.3,858.7 L332.3,858.0 L332.4,857.4 L332.4,856.7 L332.5,856.0 L332.5,855.4 L332.6,854.7 L332.6,854.0 L332.7,853.4 L332.8,852.7 L332.8,852.0 L332.9,851.4 L332.9,850.7 L333.0,850.0 L333.0,849.4 L333.1,848.7 L333.1,848.0 L333.2,847.4 L333.2,846.7 L333.3,846.1 L333.3,845.4 L333.4,844.7 L333.4,843.9 L333.5,843.2 L333.5,842.5 L333.6,841.7 L333.6,841.0 L333.7,840.3 L333.8,839.5 L333.8,838.8 L333.9,838.1 L333.9,837.4 L334.0,836.7 L334.0,835.9 L334.1,835.2 L334.2,834.5 L334.2,833.8 L334.3,833.1 L334.3,832.4 L334.4,831.7 L334.4,831.0 L334.5,830.3 L334.6,829.6 L334.6,828.9 L334.7,828.2 L334.7,827.5 L334.8,826.8 L334.9,826.1 L334.9,825.4 L335.0,824.7 L335.0,824.0 L335.1,823.3 L335.2,822.6 L335.2,821.9 L335.3,821.2 L335.3,820.5 L335.4,819.8 L335.5,819.1 L335.5,818.4 L335.6,817.7 L335.6,817.0 L335.7,816.4 L335.7,815.7 L335.8,815.0 L335.9,814.3 L335.9,813.6 L336.0,812.9 L336.0,812.2 L336.1,811.6 L336.2,810.9 L336.2,810.2 L336.3,809.5 L336.3,808.8 L336.4,808.1 L336.5,807.5 L336.5,806.8 L336.6,806.1 L336.6,805.4 L336.7,804.7 L336.8,804.0 L336.8,803.4 L336.9,802.7 L336.9,802.0 L337.0,801.3 L337.1,800.6 L337.1,799.9 L337.2,799.2 L337.2,798.4 L337.3,797.7 L337.4,797.0 L337.4,796.3 L337.5,795.6 L337.5,794.9 L337.6,794.1 L337.6,793.4 L337.7,792.7 L337.7,792.0 L337.8,791.3 L337.8,790.6 L337.9,789.8 L338.0,789.1 L338.0,788.4 L338.1,787.7 L338.1,787.0 L338.2,786.3 L338.2,785.5 L338.3,784.8 L338.3,784.1 L338.4,783.4 L338.4,782.7 L338.5,782.0 L338.5,781.3 L338.6,780.6 L338.7,779.9 L338.7,779.2 L338.8,778.5 L338.8,777.8 L338.9,777.1 L338.9,776.4 L339.0,775.7 L339.1,775.0 L339.1,774.3 L339.2,773.6 L339.2,772.9 L339.3,772.2 L339.4,771.5 L339.4,770.8 L339.5,770.2 L339.6,769.5 L339.6,768.8 L339.7,768.1 L339.8,767.5 L339.9,766.8 L339.9,766.1 L340.0,765.5 L340.1,764.8 L340.2,764.1 L340.3,763.5 L340.3,762.8 L340.4,762.2 L340.5,761.5 L340.6,760.9 L340.7,760.2 L340.8,759.4 L340.9,758.7 L341.0,757.9 L341.1,757.2 L341.2,756.4 L341.3,755.7 L341.5,755.0 L341.6,754.2 L341.7,753.5 L341.8,752.7 L341.9,752.0 L342.0,751.3 L342.1,750.5 L342.3,749.8 L342.4,749.1 L342.5,748.3 L342.6,747.6 L342.8,746.9 L342.9,746.2 L343.0,745.5 L343.1,744.8 L343.3,744.1 L343.4,743.4 L343.5,742.7 L343.7,742.0 L343.8,741.3 L343.9,740.6 L344.1,740.0 L344.2,739.3 L344.4,738.7 L344.5,738.0 L344.7,737.4 L344.8,736.7 L344.9,736.1 L345.1,735.5 L345.2,734.9 L345.4,734.3 L345.6,733.7 L345.7,733.2 L345.9,732.6 L346.0,732.0 L346.2,731.5 L346.4,730.7 L346.7,729.9 L346.9,729.2 L347.2,728.4 L347.4,727.7 L347.6,726.9 L347.9,726.2 L348.1,725.5 L348.4,724.8 L348.6,724.1 L348.9,723.5 L349.2,722.8 L349.5,722.2 L349.7,721.6 L350.0,721.1 L350.3,720.5 L350.7,720.0 L351.0,719.5 L351.3,719.0 L351.7,718.6 L352.2,718.0 L352.8,717.4 L353.4,716.9 L354.0,716.4 L354.6,715.9 L355.3,715.5 L355.9,715.2 L356.6,715.0 L357.2,714.9 L357.9,714.9 L358.4,715.0 L358.9,715.2 L359.5,715.4 L360.0,715.8 L360.6,716.2 L361.2,716.6 L361.7,717.1 L362.3,717.6 L362.8,718.2 L363.4,718.8 L363.9,719.4 L364.5,720.0 L365.0,720.6 L365.5,721.2 L365.9,721.8 L366.4,722.3 L366.8,722.8 L367.3,723.4 L367.7,724.0 L368.1,724.5 L368.4,725.1 L368.8,725.7 L369.2,726.3 L369.5,726.9 L369.8,727.5 L370.2,728.1 L370.5,728.7 L370.9,729.4 L371.2,730.1 L371.5,730.8 L371.9,731.5 L372.2,732.0 L372.4,732.6 L372.7,733.2 L372.9,733.8 L373.2,734.4 L373.5,735.0 L373.7,735.6 L374.0,736.3 L374.2,736.9 L374.5,737.6 L374.7,738.3 L375.0,738.9 L375.2,739.6 L375.5,740.3 L375.7,741.0 L376.0,741.7 L376.3,742.4 L376.5,743.1 L376.8,743.8 L377.0,744.5 L377.3,745.2 L377.6,745.8 L377.8,746.5 L378.1,747.2 L378.4,747.9 L378.6,748.5 L378.9,749.2 L379.2,749.8 L379.5,750.5 L379.8,751.1 L380.1,751.7 L380.4,752.4 L380.7,753.0 L381.1,753.6 L381.4,754.2 L381.7,754.9 L382.1,755.5 L382.4,756.1 L382.7,756.7 L383.1,757.3 L383.4,757.9 L383.7,758.5 L384.1,759.2 L384.4,759.8 L384.7,760.4 L385.0,761.0 L385.4,761.7 L385.7,762.3 L386.0,763.0 L386.2,763.6 L386.5,764.3 L386.8,765.0 L387.1,765.7 L387.3,766.4 L387.5,767.0 L387.7,767.6 L387.9,768.3 L388.1,768.9 L388.2,769.6 L388.4,770.2 L388.6,770.9 L388.7,771.5 L388.9,772.2 L389.0,772.9 L389.1,773.6 L389.3,774.3 L389.4,774.9 L389.5,775.6 L389.6,776.3 L389.8,777.0 L389.9,777.7 L390.0,778.4 L390.1,779.2 L390.2,779.9 L390.3,780.6 L390.5,781.3 L390.6,782.0 L390.7,782.7 L390.8,783.4 L390.9,784.1 L391.0,784.8 L391.2,785.5 L391.3,786.2 L391.4,786.9 L391.5,787.6 L391.7,788.3 L391.8,789.0 L392.0,789.6 L392.1,790.3 L392.3,791.0 L392.4,791.7 L392.6,792.4 L392.7,793.1 L392.9,793.9 L393.0,794.6 L393.2,795.3 L393.3,796.0 L393.5,796.8 L393.6,797.5 L393.8,798.2 L393.9,798.9 L394.1,799.6 L394.2,800.4 L394.4,801.1 L394.5,801.8 L394.7,802.5 L394.9,803.2 L395.0,803.9 L395.2,804.6 L395.4,805.3 L395.6,806.0 L395.7,806.6 L395.9,807.3 L396.1,808.0 L396.3,808.6 L396.5,809.2 L396.7,809.9 L396.9,810.5 L397.1,811.1 L397.4,811.7 L397.6,812.3 L397.9,813.0 L398.2,813.8 L398.5,814.6 L398.8,815.4 L399.2,816.2 L399.5,817.0 L399.9,817.9 L400.2,818.7 L400.6,819.5 L400.9,820.2 L401.3,821.0 L401.7,821.7 L402.0,822.3 L402.4,822.9 L402.8,823.5 L403.2,824.0 L403.5,824.4 L403.9,824.7 L404.3,825.0 L404.6,825.1 L405.0,825.2 L405.4,825.2 L405.8,825.0 L406.1,824.7 L406.5,824.4 L406.9,824.0 L407.3,823.5 L407.7,822.9 L408.1,822.3 L408.5,821.6 L408.9,820.9 L409.3,820.1 L409.7,819.4 L410.0,818.6 L410.4,817.8 L410.8,817.0 L411.2,816.2 L411.6,815.5 L411.9,814.8 L412.3,814.1 L412.6,813.5 L412.9,813.0 L413.2,812.4 L413.5,811.8 L413.8,811.2 L414.1,810.6 L414.4,810.0 L414.7,809.4 L415.0,808.8 L415.3,808.2 L415.6,807.6 L415.9,806.9 L416.1,806.3 L416.4,805.7 L416.7,805.0 L417.0,804.4 L417.3,803.7 L417.5,803.1 L417.8,802.4 L418.1,801.7 L418.4,801.1 L418.6,800.4 L418.9,799.7 L419.2,799.0 L419.4,798.3 L419.7,797.6 L419.9,797.0 L420.1,796.4 L420.4,795.8 L420.6,795.2 L420.8,794.5 L421.0,793.9 L421.3,793.3 L421.5,792.7 L421.7,792.0 L421.9,791.4 L422.1,790.7 L422.4,790.1 L422.6,789.4 L422.8,788.8 L423.0,788.1 L423.2,787.4 L423.4,786.8 L423.6,786.1 L423.8,785.4 L424.0,784.7 L424.3,784.1 L424.5,783.4 L424.7,782.7 L424.8,782.0 L425.0,781.3 L425.2,780.6 L425.4,779.9 L425.6,779.2 L425.8,778.6 L426.0,777.9 L426.2,777.2 L426.3,776.5 L426.5,775.8 L426.7,775.1 L426.8,774.4 L427.0,773.7 L427.2,773.0 L427.3,772.4 L427.4,771.7 L427.6,771.1 L427.7,770.4 L427.9,769.7 L428.0,769.1 L428.1,768.4 L428.2,767.7 L428.4,767.1 L428.5,766.4 L428.6,765.7 L428.7,765.0 L428.8,764.4 L428.9,763.7 L429.1,763.0 L429.2,762.3 L429.3,761.6 L429.4,760.9 L429.5,760.3 L429.6,759.6 L429.7,758.9 L429.8,758.2 L429.9,757.5 L430.0,756.8 L430.1,756.1 L430.2,755.4 L430.3,754.7 L430.4,754.0 L430.4,753.3 L430.5,752.6 L430.6,751.9 L430.7,751.2 L430.8,750.5 L430.9,749.8 L431.0,749.1 L431.1,748.4 L431.2,747.6 L431.3,746.9 L431.4,746.2 L431.5,745.5 L431.6,744.9 L431.7,744.2 L431.8,743.6 L431.8,742.9 L431.9,742.2 L432.0,741.6 L432.1,740.9 L432.2,740.2 L432.3,739.6 L432.3,738.9 L432.4,738.2 L432.5,737.6 L432.6,736.9 L432.7,736.2 L432.7,735.6 L432.8,734.9 L432.9,734.2 L433.0,733.5 L433.1,732.8 L433.1,732.2 L433.2,731.5 L433.3,730.8 L433.4,730.1 L433.4,729.4 L433.5,728.7 L433.6,728.0 L433.7,727.3 L433.7,726.6 L433.8,725.9 L433.9,725.2 L434.0,724.5 L434.0,723.8 L434.1,723.1 L434.2,722.4 L434.2,721.7 L434.3,721.0 L434.4,720.3 L434.5,719.6 L434.5,718.9 L434.6,718.2 L434.7,717.5 L434.7,716.7 L434.8,716.0 L434.9,715.3 L435.0,714.6 L435.0,713.8 L435.1,713.1 L435.2,712.4 L435.2,711.8 L435.3,711.1 L435.4,710.4 L435.4,709.8 L435.5,709.1 L435.5,708.4 L435.6,707.7 L435.7,707.0 L435.7,706.3 L435.8,705.6 L435.8,704.9 L435.9,704.2 L436.0,703.5 L436.0,702.8 L436.1,702.1 L436.1,701.4 L436.2,700.7 L436.3,700.0 L436.3,699.3 L436.4,698.6 L436.4,697.9 L436.5,697.1 L436.5,696.4 L436.6,695.7 L436.7,695.0 L436.7,694.3 L436.8,693.5 L436.8,692.8 L436.9,692.1 L436.9,691.4 L437.0,690.7 L437.0,689.9 L437.1,689.2 L437.2,688.5 L437.2,687.8 L437.3,687.1 L437.3,686.3 L437.4,685.6 L437.4,684.9 L437.5,684.2 L437.6,683.5 L437.6,682.8 L437.7,682.1 L437.7,681.3 L437.8,680.6 L437.8,679.9 L437.9,679.2 L438.0,678.5 L438.0,677.8 L438.1,677.1 L438.1,676.4 L438.2,675.7 L438.2,675.1 L438.3,674.4 L438.4,673.7 L438.4,673.0 L438.5,672.3 L438.5,671.7 L438.6,671.0 L438.7,670.3 L438.7,669.5 L438.8,668.8 L438.9,668.1 L438.9,667.3 L439.0,666.6 L439.1,665.9 L439.1,665.2 L439.2,664.5 L439.3,663.8 L439.3,663.0 L439.4,662.3 L439.5,661.6 L439.6,660.9 L439.6,660.2 L439.7,659.5 L439.8,658.8 L439.8,658.1 L439.9,657.4 L440.0,656.7 L440.0,656.0 L440.1,655.3 L440.2,654.6 L440.2,653.9 L440.3,653.2 L440.4,652.5 L440.5,651.9 L440.5,651.2 L440.6,650.5 L440.7,649.8 L440.7,649.1 L440.8,648.4 L440.9,647.7 L440.9,647.0 L441.0,646.3 L441.1,645.6 L441.2,645.0 L441.2,644.3 L441.3,643.6 L441.4,642.9 L441.4,642.2 L441.5,641.5 L441.6,640.8 L441.6,640.1 L441.7,639.4 L441.8,638.7 L441.9,638.0 L441.9,637.3 L442.0,636.6 L442.1,635.9 L442.1,635.2 L442.2,634.5 L442.3,633.8 L442.3,633.1 L442.4,632.5 L442.5,631.8 L442.5,631.1 L442.6,630.4 L442.7,629.7 L442.8,629.0 L442.8,628.3 L442.9,627.6 L443.0,626.9 L443.0,626.2 L443.1,625.5 L443.2,624.8 L443.2,624.1 L443.3,623.5 L443.4,622.8 L443.4,622.1 L443.5,621.4 L443.6,620.7 L443.6,620.0 L443.7,619.3 L443.8,618.6 L443.8,617.9 L443.9,617.2 L444.0,616.5 L444.0,615.8 L444.1,615.1 L444.2,614.4 L444.3,613.8 L444.3,613.1 L444.4,612.4 L444.5,611.7 L444.5,611.0 L444.6,610.3 L444.7,609.6 L444.8,608.9 L444.8,608.2 L444.9,607.5 L445.0,606.8 L445.0,606.1 L445.1,605.5 L445.2,604.8 L445.3,604.1 L445.3,603.4 L445.4,602.7 L445.5,602.0 L445.6,601.3 L445.7,600.6 L445.7,599.9 L445.8,599.2 L445.9,598.6 L446.0,597.9 L446.0,597.2 L446.1,596.5 L446.2,595.8 L446.3,595.1 L446.4,594.4 L446.5,593.7 L446.5,593.0 L446.6,592.4 L446.7,591.7 L446.8,591.0 L446.9,590.3 L447.0,589.6 L447.0,588.9 L447.1,588.2 L447.2,587.5 L447.3,586.9 L447.4,586.2 L447.5,585.5 L447.5,584.8 L447.6,584.1 L447.7,583.4 L447.8,582.7 L447.9,582.0 L448.0,581.4 L448.1,580.7 L448.1,580.0 L448.2,579.3 L448.3,578.6 L448.4,577.9 L448.5,577.2 L448.6,576.5 L448.7,575.9 L448.7,575.2 L448.8,574.5 L448.9,573.8 L449.0,573.1 L449.1,572.4 L449.2,571.7 L449.3,571.0 L449.4,570.4 L449.4,569.7 L449.5,569.0 L449.6,568.3 L449.7,567.6 L449.8,566.9 L449.9,566.2 L450.0,565.5 L450.0,564.8 L450.1,564.2 L450.2,563.5 L450.3,562.8 L450.4,562.1 L450.5,561.4 L450.6,560.7 L450.6,560.0 L450.7,559.3 L450.8,558.6 L450.9,557.9 L451.0,557.3 L451.1,556.6 L451.2,555.9 L451.2,555.2 L451.3,554.5 L451.4,553.8 L451.5,553.1 L451.6,552.4 L451.7,551.7 L451.8,551.0 L451.8,550.3 L451.9,549.7 L452.0,549.0 L452.1,548.3 L452.2,547.6 L452.3,546.9 L452.4,546.2 L452.4,545.5 L452.5,544.8 L452.6,544.1 L452.7,543.4 L452.8,542.8 L452.9,542.1 L453.0,541.4 L453.1,540.7 L453.2,540.0 L453.3,539.3 L453.3,538.6 L453.4,537.9 L453.5,537.2 L453.6,536.5 L453.7,535.9 L453.8,535.2 L453.9,534.5 L454.0,533.8 L454.1,533.1 L454.2,532.4 L454.3,531.7 L454.4,531.0 L454.5,530.3 L454.6,529.7 L454.7,529.0 L454.8,528.3 L454.9,527.6 L455.0,526.9 L455.1,526.2 L455.2,525.5 L455.3,524.8 L455.4,524.2 L455.5,523.5 L455.6,522.8 L455.7,522.1 L455.8,521.4 L455.9,520.7 L456.0,520.1 L456.1,519.4 L456.2,518.7 L456.3,518.0 L456.4,517.3 L456.5,516.6 L456.6,515.9 L456.7,515.3 L456.8,514.6 L456.9,513.9 L457.0,513.2 L457.1,512.5 L457.2,511.8 L457.3,511.1 L457.4,510.4 L457.5,509.8 L457.6,509.1 L457.7,508.4 L457.8,507.7 L457.9,507.0 L458.1,506.3 L458.2,505.6 L458.3,504.9 L458.4,504.2 L458.5,503.5 L458.6,502.8 L458.7,502.1 L458.8,501.4 L459.0,500.7 L459.1,500.0 L459.2,499.3 L459.3,498.6 L459.4,497.9 L459.5,497.2 L459.6,496.6 L459.8,495.9 L459.9,495.2 L460.0,494.5 L460.1,493.8 L460.2,493.1 L460.3,492.5 L460.5,491.8 L460.6,491.1 L460.7,490.4 L460.8,489.7 L460.9,489.0 L461.1,488.3 L461.2,487.6 L461.3,486.9 L461.4,486.2 L461.5,485.5 L461.7,484.8 L461.8,484.1 L461.9,483.4 L462.0,482.7 L462.2,482.0 L462.3,481.3 L462.4,480.6 L462.5,479.9 L462.7,479.2 L462.8,478.5 L462.9,477.8 L463.1,477.1 L463.2,476.4 L463.3,475.7 L463.4,475.0 L463.6,474.3 L463.7,473.6 L463.8,472.9 L464.0,472.2 L464.1,471.5 L464.2,470.8 L464.4,470.1 L464.5,469.4 L464.6,468.7 L464.7,468.1 L464.9,467.4 L465.0,466.7 L465.1,466.0 L465.3,465.3 L465.4,464.7 L465.5,464.0 L465.7,463.3 L465.8,462.7 L465.9,462.0 L466.1,461.4 L466.2,460.7 L466.3,460.0 L466.5,459.3 L466.6,458.5 L466.8,457.8 L466.9,457.1 L467.1,456.4 L467.2,455.7 L467.4,455.0 L467.5,454.3 L467.7,453.6 L467.8,452.9 L468.0,452.2 L468.1,451.5 L468.3,450.8 L468.4,450.1 L468.6,449.4 L468.7,448.7 L468.9,448.0 L469.1,447.3 L469.2,446.6 L469.4,445.9 L469.5,445.2 L469.7,444.5 L469.8,443.9 L470.0,443.2 L470.1,442.5" stroke="#f00" stroke-width="4.6"/>
<path d="M470.1,442.5 L470.3,441.8 L470.4,441.1 L470.6,440.4 L470.7,439.8 L470.9,439.1 L471.1,438.4 L471.2,437.7 L471.4,437.0 L471.5,436.4 L471.7,435.8 L471.8,435.1 L472.0,434.3 L472.2,433.7 L472.3,433.1 L472.5,432.5 L472.6,431.8 L472.8,431.1 L472.9,430.4 L473.1,429.6 L473.3,429.0 L473.4,428.3 L473.6,427.6 L473.8,427.1 L473.9,426.2 L474.1,425.5 L474.3,425.0 L474.4,424.2 L474.6,423.7 L474.8,422.7 L474.9,422.2 L475.1,421.4 L475.3,420.7 L475.4,420.1 L475.6,419.4 L475.8,418.5 L476.0,418.0 L476.1,417.0 L476.3,416.5 L476.5,416.1 L476.6,415.2 L476.8,414.6 L477.0,414.0 L477.1,413.4 L477.3,412.7 L477.5,412.1 L477.7,411.3 L477.8,410.9 L478.0,410.0 L478.2,409.4 L478.3,408.8 L478.5,408.1 L478.7,407.5 L478.8,407.2 L479.0,406.0 L479.2,405.6 L479.3,404.5 L479.5,403.8 L479.7,403.3 L479.8,402.1 L480.0,402.1 L480.2,401.2 L480.3,400.8 L480.5,399.8 L480.6,399.7 L480.7,398.7 L480.9,398.0 L481.0,396.9 L481.2,396.6 L481.3,395.4 L481.4,395.2 L481.5,394.4 L481.7,393.2 L481.8,392.0 L481.9,391.8 L482.1,391.3 L482.2,391.0 L482.3,390.5 L482.4,389.4 L482.6,388.8 L482.7,388.3 L482.8,387.7 L482.9,386.3 L483.1,386.6 L483.2,385.6 L483.3,385.4 L483.5,384.3 L483.6,382.7 L483.8,382.2 L483.9,381.6 L484.1,381.0 L484.2,380.5 L484.4,379.7 L484.5,379.6 L484.7,378.9 L484.9,377.7 L485.0,376.7 L485.2,376.4 L485.4,375.6 L485.6,374.6 L485.8,374.0 L486.0,373.7 L486.2,373.8 L486.4,372.9 L486.7,373.0 L486.9,371.6 L487.2,370.3 L487.4,369.7 L487.7,369.3 L488.0,368.6 L488.3,367.4 L488.6,366.7 L488.9,366.6 L489.2,365.8 L489.5,366.1 L489.9,365.1 L490.2,363.8 L490.5,363.1 L490.9,362.6 L491.2,362.0 L491.6,361.9 L491.9,360.5 L492.3,359.7 L492.6,358.8 L493.0,358.9 L493.4,359.2 L493.7,357.1 L494.1,357.6 L494.5,355.4 L494.8,355.0 L495.2,355.1 L495.6,354.8 L495.9,352.5 L496.3,352.8 L496.6,352.0 L497.0,351.7 L497.4,353.0 L497.7,351.7 L498.0,351.6 L498.4,350.0 L498.7,349.8 L499.0,349.8 L499.4,349.4 L499.7,348.4 L500.0,347.2 L500.4,346.1 L500.8,346.1 L501.2,343.9 L501.6,342.7 L502.0,341.6 L502.4,342.7 L502.8,342.3 L503.2,341.6 L503.6,341.9 L504.0,341.0 L504.4,340.3 L504.8,341.8 L505.2,339.7 L505.5,340.0 L505.9,337.9 L506.3,337.0 L506.6,337.1 L507.0,336.6 L507.4,334.2 L507.7,334.2 L508.1,333.7 L508.4,332.7 L508.7,333.7 L509.0,331.6 L509.3,331.1 L509.6,332.0 L509.9,332.3 L510.1,331.6 L510.4,330.7 L510.7,329.5 L510.9,329.9 L511.2,327.2 L511.5,327.0 L511.7,325.7 L512.0,326.4 L512.3,326.6 L512.5,325.1 L512.8,326.3 L513.1,323.8 L513.3,322.9 L513.6,323.3 L513.9,321.1 L514.2,322.1 L514.4,321.6 L514.7,320.1 L515.0,318.5 L515.3,319.7 L515.6,318.0 L515.9,316.8 L516.2,315.7 L516.5,313.5 L516.8,313.7 L517.1,313.6 L517.4,312.0 L517.7,313.3 L518.0,312.2 L518.3,312.6 L518.6,311.5 L518.9,311.0 L519.2,309.0 L519.5,310.0 L519.8,308.6 L520.1,307.7 L520.5,307.3 L520.8,306.5 L521.1,305.2 L521.4,304.5 L521.7,303.5 L522.1,303.8 L522.4,303.2 L522.7,302.3 L523.0,302.5 L523.4,300.7 L523.7,300.9 L524.0,301.1 L524.3,299.8 L524.7,298.7 L525.0,298.1 L525.3,296.1 L525.7,296.9 L526.0,297.3 L526.3,295.0 L526.7,295.4 L527.0,295.5 L527.4,292.2 L527.7,293.3 L528.1,293.2 L528.4,293.3 L528.8,292.0 L529.2,290.2 L529.5,289.6 L529.9,289.1 L530.2,289.4 L530.6,286.9 L531.0,286.2 L531.3,286.3 L531.7,286.1 L532.0,286.4 L532.4,285.7 L532.8,283.7 L533.2,285.1 L533.5,283.3 L533.9,282.6 L534.3,284.0 L534.7,282.8 L535.0,280.4 L535.4,279.3 L535.8,278.1 L536.2,277.1 L536.6,276.4 L537.0,276.1 L537.4,276.8 L537.8,275.5 L538.3,274.3 L538.7,275.8 L539.2,274.9 L539.7,275.3 L540.2,276.0 L540.7,275.1 L541.2,273.1 L541.7,274.0 L542.2,271.9 L542.7,271.5 L543.2,269.7 L543.7,269.2 L544.3,269.5 L544.8,268.6 L545.3,270.2 L545.8,269.2 L546.2,267.3 L546.7,268.1 L547.2,268.1 L547.7,267.1 L548.1,267.3 L548.6,266.3 L549.1,264.7 L549.6,265.6 L550.0,264.9 L550.5,263.9 L550.9,263.2 L551.4,261.9 L551.8,261.2 L552.2,262.7 L552.7,260.7 L553.1,260.5 L553.5,258.7 L553.9,258.4 L554.4,259.8 L554.8,259.9 L555.3,258.5 L555.7,258.4 L556.2,258.8 L556.7,256.1 L557.1,256.9 L557.4,256.0 L557.8,256.6 L558.2,254.2 L558.6,254.5 L559.0,253.6 L559.4,253.1 L559.8,253.9 L560.2,253.9 L560.6,252.1 L561.0,250.8 L561.4,249.9 L561.8,249.8 L562.2,248.9 L562.6,248.6 L563.1,247.9 L563.5,248.3 L563.9,247.2 L564.3,245.9 L564.7,246.0 L565.2,245.2 L565.6,244.2 L566.0,244.0 L566.4,244.3 L566.9,242.6 L567.3,241.2 L567.7,240.2 L568.1,241.1 L568.5,239.6 L569.0,239.5 L569.4,238.8 L569.8,237.3 L570.2,237.5 L570.6,237.1 L571.0,237.4 L571.4,236.7 L571.8,234.7 L572.2,235.6 L572.7,233.4 L573.1,234.9 L573.5,233.4 L573.9,232.5 L574.3,231.8 L574.7,230.4 L575.1,231.3 L575.5,231.1 L575.9,229.7 L576.3,228.0 L576.7,228.2 L577.1,226.7 L577.5,226.2 L578.0,226.6 L578.4,226.6 L578.8,223.9 L579.2,224.8 L579.6,222.5 L580.0,223.3 L580.4,222.4 L580.8,221.0 L581.2,222.3 L581.6,221.5 L582.1,220.5 L582.5,220.3 L582.9,220.4 L583.3,220.4 L583.7,219.1 L584.1,218.6 L584.6,216.5 L585.0,216.4 L585.4,215.8 L585.8,216.6 L586.3,215.6 L586.7,213.9 L587.1,214.1 L587.5,213.3 L588.0,214.4 L588.4,213.0 L588.8,212.4 L589.3,211.6 L589.7,211.9 L590.1,211.9 L590.6,209.1 L591.0,208.6 L591.4,210.1 L591.8,208.6 L592.3,208.6 L592.7,206.8 L593.1,205.0 L593.6,205.5 L594.0,205.6 L594.5,204.4 L594.9,204.1 L595.3,203.9 L595.8,203.4 L596.2,203.1 L596.7,202.6 L597.1,201.2 L597.6,201.3 L598.0,200.6 L598.5,199.9 L599.0,200.7 L599.4,198.4 L599.9,197.8 L600.4,196.4 L600.9,196.2 L601.4,195.8 L601.9,196.2 L602.3,195.2 L602.8,195.3 L603.3,193.1 L603.8,194.0 L604.3,192.0 L604.8,192.2 L605.3,191.9 L605.7,191.8 L606.2,191.1 L606.7,191.2 L607.1,190.4 L607.6,189.2 L608.1,188.2 L608.5,187.3 L608.9,188.0 L609.4,187.2 L609.8,186.9 L610.2,187.9 L610.6,186.0 L611.1,185.0 L611.5,186.2 L612.0,183.1 L612.4,184.3 L612.8,184.2 L613.2,183.5 L613.6,181.7 L614.0,181.4 L614.4,181.8 L614.8,181.0 L615.2,181.3 L615.6,179.9 L616.0,179.0 L616.4,178.0 L616.8,178.3 L617.2,176.4 L617.7,176.9 L618.2,175.0 L618.7,174.4 L619.2,175.6 L619.6,174.6 L620.1,173.0 L620.6,173.8 L621.1,173.0 L621.6,171.6 L622.2,171.7 L622.7,170.8 L623.2,171.9 L623.8,173.6 L624.4,172.0 L624.9,170.7 L625.5,169.9 L626.1,168.7 L626.6,170.2 L627.2,169.6 L627.8,169.0 L628.3,168.0 L628.9,167.6 L629.5,166.3 L630.0,165.8 L630.6,164.9 L631.1,165.9 L631.7,164.0 L632.2,165.8 L632.7,164.6 L633.2,165.5 L633.7,163.0 L634.2,162.6 L634.7,162.8 L635.2,160.9 L635.7,160.7 L636.2,160.8 L636.7,160.4 L637.2,158.2 L637.7,158.9 L638.2,158.0 L638.7,158.0 L639.1,157.7 L639.6,156.6 L640.1,156.0 L640.6,157.7 L641.1,156.5 L641.6,155.1 L642.1,153.7 L642.6,154.2 L643.1,152.8 L643.6,151.9 L644.1,153.0 L644.7,152.2 L645.2,151.2 L645.7,150.4 L646.3,152.9 L646.9,150.8 L647.5,149.0 L648.1,149.6 L648.7,150.1 L649.3,149.3 L649.9,148.5 L650.5,148.5 L651.1,148.3 L651.7,147.6 L652.3,145.2 L653.0,145.6 L653.6,146.6 L654.2,145.5 L654.8,146.7 L655.4,146.0 L656.1,145.4 L656.7,144.4 L657.3,143.6 L657.9,144.7 L658.6,143.2 L659.2,144.2 L659.8,144.5 L660.5,143.9 L661.1,142.7 L661.8,142.9 L662.4,141.9 L663.1,140.9 L663.7,140.8 L664.4,140.9 L665.0,141.0 L665.7,140.9 L666.3,137.8 L667.0,139.6 L667.6,139.6 L668.3,138.8 L668.9,138.1 L669.6,138.3 L670.2,139.3 L670.8,138.7 L671.5,138.6 L672.1,138.5 L672.7,138.0 L673.4,138.3 L674.1,138.8 L674.8,139.2 L675.5,138.9 L676.2,139.5 L676.8,139.2 L677.5,139.7 L678.2,138.5 L678.9,140.1 L679.5,137.6 L680.2,139.3 L680.9,138.9 L681.5,139.5 L682.2,140.6 L682.8,141.6 L683.5,140.6 L684.2,141.4 L684.9,140.3 L685.6,140.8 L686.3,140.0 L687.0,139.5 L687.6,139.0 L688.3,138.0 L689.0,139.7 L689.7,137.9 L690.4,137.9 L691.0,139.1 L691.7,138.8 L692.3,140.9 L693.0,141.3 L693.6,140.8 L694.2,140.6 L694.8,140.4 L695.4,140.9 L695.9,141.4 L696.5,142.3 L697.0,143.9 L697.6,142.9 L698.2,142.6 L698.7,143.8 L699.3,144.7 L699.9,144.6 L700.5,144.9 L701.1,144.4 L701.7,145.8 L702.4,145.9 L703.0,147.1 L703.6,145.7 L704.3,147.7 L704.9,146.4 L705.6,148.1 L706.2,146.6 L706.9,148.7 L707.6,147.8 L708.3,149.4 L709.0,150.1 L709.7,148.4 L710.4,148.0 L711.1,148.7 L711.8,148.7 L712.5,148.9 L713.2,149.9 L713.9,148.5 L714.6,149.2 L715.2,148.6 L715.9,149.6 L716.5,149.5 L717.2,150.8 L717.8,151.4 L718.4,150.3 L719.0,151.2 L719.6,150.5 L720.2,152.2 L720.8,151.2 L721.5,153.2 L722.1,154.4 L722.7,154.8 L723.3,155.1 L723.9,155.1 L724.5,156.0 L725.1,155.0 L725.7,157.0 L726.3,156.4 L726.9,157.3 L727.5,155.6 L728.2,155.7 L728.8,156.0 L729.4,157.0 L730.0,159.1 L730.7,159.8 L731.3,159.6 L731.9,160.4 L732.6,160.4 L733.2,158.9 L733.8,158.6 L734.5,159.2 L735.1,161.2 L735.7,161.1 L736.4,161.4 L737.0,160.3 L737.6,162.1 L738.3,161.5 L738.9,161.2 L739.6,161.7 L740.2,161.5 L740.9,162.0 L741.6,163.0 L742.2,163.4 L742.9,163.1 L743.5,163.7 L744.1,162.1 L744.8,164.7 L745.4,164.8 L746.1,163.6 L746.7,165.9 L747.3,163.3 L748.0,163.7 L748.6,164.7 L749.3,166.3 L750.0,165.4 L750.6,166.5 L751.3,166.8 L751.9,169.0 L752.6,168.6 L753.2,168.3 L753.9,169.0 L754.6,168.0 L755.2,168.1 L755.9,168.3 L756.5,168.9 L757.2,170.2 L757.8,169.3 L758.5,170.5 L759.1,169.0 L759.7,170.1 L760.3,170.1 L760.9,170.7 L761.5,170.9 L762.2,171.7 L762.8,172.0 L763.4,173.3 L764.0,172.6 L764.6,171.8 L765.2,171.8 L765.8,173.2 L766.4,174.4 L767.0,173.2 L767.6,174.0 L768.2,173.4 L768.8,174.2 L769.4,174.5 L770.0,176.4 L770.6,176.9 L771.2,177.2 L771.8,177.7 L772.4,178.6 L773.0,177.9 L773.6,177.3 L774.1,179.4 L774.7,178.4 L775.3,180.3 L776.0,180.3 L776.6,179.5 L777.3,180.2 L777.9,180.7 L778.5,181.3 L779.1,182.7 L779.8,182.5 L780.4,184.9 L781.0,182.7 L781.6,184.3 L782.3,183.7 L782.9,182.3 L783.5,185.4 L784.1,184.7 L784.8,185.0 L785.4,185.7 L786.0,185.1 L786.7,186.0 L787.4,186.6 L788.0,186.7 L788.7,186.4 L789.3,186.1 L790.0,186.8 L790.6,187.2 L791.3,185.7 L791.9,185.9 L792.6,185.7 L793.2,188.3 L793.9,186.6 L794.6,187.8 L795.2,188.8 L795.9,188.5 L796.6,188.6 L797.3,189.4 L798.0,189.5 L798.6,190.0 L799.3,190.2 L800.0,190.8 L800.7,191.3 L801.4,191.1 L802.1,188.9 L802.8,189.3 L803.5,190.6 L804.2,190.5 L804.9,191.7 L805.6,190.2 L806.2,189.4 L806.9,190.2 L807.5,189.8 L808.2,190.1 L808.9,192.1 L809.6,192.2 L810.2,191.7 L810.9,192.9 L811.6,192.1 L812.3,192.7 L813.0,194.0 L813.7,193.4 L814.4,193.9 L815.1,192.6 L815.7,191.5 L816.4,191.9 L817.1,191.7 L817.8,194.3 L818.5,193.2 L819.2,195.6 L819.8,195.1 L820.5,194.5 L821.2,194.9 L821.8,194.4 L822.5,193.8 L823.2,195.1 L823.8,194.4 L824.5,195.4 L825.2,196.8 L825.9,197.0 L826.6,196.5 L827.3,196.7 L828.0,196.6 L828.6,197.1 L829.3,198.0 L830.0,198.5 L830.7,197.6 L831.4,199.1 L832.0,198.6 L832.7,198.8 L833.4,199.4 L834.0,200.5 L834.7,199.5 L835.4,200.0 L836.0,200.7 L836.7,200.2 L837.4,199.6 L838.0,200.7 L838.7,201.6 L839.3,201.0 L840.0,201.6 L840.7,201.9 L841.3,201.7 L842.0,203.3 L842.6,203.8 L843.3,202.7 L844.0,204.3 L844.6,204.4 L845.3,202.9 L845.9,204.2 L846.6,203.5 L847.2,203.4 L847.9,202.9 L848.5,203.5 L849.2,204.2 L849.8,204.3 L850.5,204.8 L851.1,205.1 L851.7,204.3 L852.4,205.1 L853.0,206.1 L853.7,205.6 L854.3,206.4 L855.0,206.4 L855.7,207.4 L856.3,208.5 L857.0,206.4 L857.6,205.6 L858.2,207.7 L858.9,207.6 L859.5,207.1 L860.2,208.6 L860.8,209.0 L861.5,208.3 L862.1,209.3 L862.8,208.4 L863.4,209.1 L864.1,208.4 L864.7,208.8 L865.4,209.1 L866.0,210.2 L866.7,210.2 L867.3,210.9 L868.0,210.4 L868.7,209.9 L869.3,210.8 L870.0,211.5 L870.6,211.3 L871.2,211.3 L871.9,211.7 L872.5,211.5 L873.1,212.9 L873.7,212.5 L874.4,213.0 L875.0,213.7 L875.6,214.2 L876.2,215.6 L876.9,215.8 L877.5,216.3 L878.2,216.3 L878.8,215.8 L879.4,216.6 L880.1,216.6 L880.7,216.4 L881.3,216.5 L882.0,216.8 L882.6,217.2 L883.2,216.8 L883.9,217.8 L884.5,217.7 L885.1,218.5 L885.7,218.8 L886.4,219.0 L887.0,219.8 L887.6,219.8 L888.3,220.7 L889.0,220.8 L889.7,221.3 L890.4,221.8 L891.1,222.9 L891.7,223.4 L892.4,223.3 L893.1,223.7 L893.8,223.2 L894.5,223.1 L895.1,222.2 L895.8,221.8 L896.5,222.2 L897.2,221.4 L897.9,221.8 L898.5,221.8 L899.2,222.2 L899.9,221.4 L900.6,221.5 L901.2,221.7 L901.9,222.0 L902.6,223.2 L903.3,223.7 L903.9,224.3 L904.6,224.9 L905.2,225.3 L905.9,225.7 L906.5,226.4 L907.2,226.5 L907.8,227.4 L908.5,226.8 L909.1,226.8 L909.8,227.1 L910.4,226.7 L911.1,227.0 L911.7,226.5 L912.4,225.9 L913.1,226.4 L913.7,226.1 L914.4,225.4 L915.0,225.8 L915.7,227.1 L916.3,227.4 L917.0,227.8 L917.6,228.5 L918.3,228.7 L918.9,230.0 L919.6,229.6 L920.3,230.2 L921.0,230.7 L921.7,231.5 L922.4,232.6 L923.1,232.9 L923.8,231.8 L924.5,232.0 L925.2,231.3 L925.9,231.4 L926.6,232.5 L927.3,232.7 L928.0,232.1 L928.6,231.4 L929.2,232.4 L929.9,232.5 L930.5,232.2 L931.1,232.4 L931.6,233.1 L932.2,232.9 L932.7,234.0 L933.3,235.8 L933.8,235.6 L934.3,237.2 L934.7,237.1 L935.2,239.0 L935.6,238.9 L936.0,239.8 L936.4,240.1 L936.7,241.3 L937.1,242.5 L937.5,242.7 L937.9,242.9 L938.3,242.9 L938.7,243.3 L939.2,244.2 L939.7,244.0 L940.2,245.7 L940.7,245.6 L941.2,245.2 L941.7,245.6 L942.2,245.4 L942.8,245.6 L943.3,245.1 L943.9,245.7 L944.4,244.6 L945.0,244.4 L945.6,245.6 L946.2,246.8 L946.8,247.3 L947.4,247.7 L947.9,249.7 L948.5,249.0 L949.1,250.8 L949.7,251.7 L950.3,252.0 L950.9,252.0 L951.5,253.9 L952.1,254.0 L952.7,255.6 L953.3,255.5 L953.9,255.9 L954.6,256.0 L955.2,254.9 L955.8,255.2 L956.4,255.4 L957.0,255.9 L957.7,255.4 L958.3,255.2 L958.9,255.6 L959.5,255.7 L960.2,255.9 L960.8,256.1 L961.4,256.7 L962.1,257.4 L962.7,258.2 L963.3,258.6 L963.9,258.7 L964.6,259.7 L965.2,260.7 L965.9,261.3 L966.6,262.2 L967.3,262.5 L968.0,261.8 L968.7,261.1 L969.4,261.2 L970.2,261.0 L970.9,260.6 L971.6,260.8 L972.3,260.3 L973.0,259.6 L973.7,259.1 L974.4,258.4 L975.1,258.8 L975.8,259.3 L976.5,258.6 L977.2,259.7 L977.9,260.0 L978.5,261.1 L979.2,260.6 L979.9,260.9 L980.6,260.5 L981.3,261.4 L982.0,260.8 L982.6,261.2 L983.3,259.6 L984.0,259.2 L984.6,258.9 L985.3,258.6 L985.9,257.7 L986.6,256.7 L987.2,255.2 L987.8,255.5 L988.5,254.9 L989.3,254.7 L990.0,253.7 L990.7,253.9 L991.3,253.1 L992.0,253.7 L992.7,254.5 L993.3,255.3 L994.0,255.5 L994.7,256.7 L995.3,256.7 L995.9,256.0 L996.4,255.8 L996.9,256.1 L997.4,255.5 L997.9,255.7 L998.4,254.1 L998.9,254.0 L999.4,252.2 L999.9,251.3 L1000.5,251.2 L1001.0,250.2 L1001.6,249.6 L1002.2,249.4 L1002.8,248.8 L1003.4,248.0 L1004.0,247.4 L1004.6,246.3 L1005.3,245.8 L1005.9,245.0 L1006.6,246.0 L1007.3,246.5 L1007.9,246.6 L1008.6,247.6 L1009.4,247.4 L1010.1,246.6 L1010.8,246.8 L1011.5,247.5 L1012.3,247.8 L1013.0,247.1 L1013.8,246.7 L1014.5,247.2 L1015.3,246.7 L1015.9,246.8 L1016.6,244.8 L1017.3,244.1 L1017.9,243.9 L1018.6,243.2 L1019.3,242.6 L1020.0,243.4 L1020.7,242.3 L1021.4,243.4 L1022.1,244.5 L1022.9,244.2 L1023.6,244.5 L1024.3,245.2 L1025.0,245.4 L1025.7,246.2 L1026.5,247.0 L1027.2,246.8 L1027.9,247.0 L1028.6,245.9 L1029.3,245.6 L1030.0,244.8 L1030.7,244.8 L1031.4,244.0 L1032.1,244.6 L1032.8,244.6 L1033.5,244.1 L1034.2,243.2 L1034.9,243.5 L1035.6,242.8 L1036.3,244.1 L1037.0,244.5 L1037.7,244.0 L1038.3,244.2 L1039.0,244.7 L1039.7,246.2 L1040.4,246.3 L1041.0,247.6 L1041.7,248.4 L1042.4,248.5 L1043.1,247.8 L1043.7,247.2 L1044.4,247.6 L1045.1,246.2 L1045.8,246.8 L1046.5,246.8 L1047.2,245.4 L1047.9,245.4 L1048.6,245.9 L1049.3,245.0 L1049.9,245.2 L1050.6,245.0 L1051.3,246.5 L1052.0,246.6 L1052.7,246.7 L1053.4,246.9 L1054.1,247.8 L1054.8,248.0 L1055.5,248.6 L1056.2,249.9 L1056.9,250.1 L1057.6,249.5 L1058.3,249.3 L1059.1,249.8 L1059.8,248.9 L1060.5,248.9 L1061.2,248.4 L1061.9,248.4 L1062.6,247.4 L1063.3,247.2 L1064.0,247.2 L1064.7,247.2 L1065.4,247.0 L1066.1,246.7 L1066.8,247.0 L1067.5,247.2 L1068.2,249.3 L1068.9,248.9 L1069.6,249.6 L1070.3,251.1 L1071.1,251.4 L1071.8,251.0 L1072.5,252.0 L1073.2,251.3 L1073.9,250.7 L1074.6,251.0 L1075.3,251.5 L1076.0,250.8 L1076.7,252.0 L1077.4,251.4 L1078.1,250.7 L1078.8,249.6 L1079.5,250.4 L1080.2,249.8 L1080.9,249.8 L1081.5,250.7 L1082.2,250.8 L1082.9,251.8 L1083.6,251.9 L1084.3,253.9 L1085.0,254.6 L1085.7,254.5 L1086.4,254.5 L1087.1,254.9 L1087.8,255.4 L1088.4,255.4 L1089.1,254.6 L1089.8,254.9 L1090.5,254.6 L1091.1,254.7 L1091.8,254.1 L1092.5,253.3 L1093.2,253.5 L1093.8,251.7 L1094.5,251.6 L1095.2,252.1 L1095.9,252.3 L1096.5,253.2 L1097.2,253.8 L1097.9,254.4 L1098.6,255.2 L1099.3,255.6 L1100.0,256.0 L1100.6,256.2 L1101.3,256.7 L1102.0,257.6 L1102.7,257.2 L1103.4,257.5 L1104.1,256.7 L1104.8,256.3 L1105.5,256.6 L1106.1,256.8 L1106.8,256.7 L1107.5,255.6 L1108.2,255.5 L1108.9,255.0 L1109.6,254.5 L1110.3,254.7 L1110.9,255.7 L1111.6,255.5 L1112.3,255.9 L1113.0,256.9 L1113.7,257.2 L1114.4,258.6 L1115.0,258.4 L1115.7,258.6 L1116.4,260.0 L1117.1,260.0 L1117.7,260.7 L1118.4,260.5 L1119.1,260.0 L1119.8,258.5 L1120.4,258.0 L1121.1,258.2 L1121.8,258.1 L1122.5,258.8 L1123.1,259.1 L1123.8,258.1 L1124.5,258.2 L1125.2,258.1 L1125.9,258.4 L1126.6,259.0 L1127.3,258.6 L1128.0,259.8 L1128.7,260.3 L1129.4,260.5 L1130.0,261.2 L1130.7,262.1 L1131.4,263.2 L1132.1,262.9 L1132.8,263.3 L1133.5,262.5 L1134.2,263.1 L1134.9,261.5 L1135.6,261.3 L1136.3,262.3 L1137.0,261.1 L1137.7,261.3 L1138.4,260.4 L1139.1,259.6 L1139.8,259.2 L1140.6,260.2 L1141.3,260.7 L1142.0,261.3 L1142.7,262.9 L1143.4,262.9 L1144.1,263.6 L1144.8,264.2 L1145.5,264.7 L1146.2,265.6 L1146.9,265.8 L1147.6,265.8 L1148.3,264.8 L1149.1,265.0 L1149.8,264.5 L1150.5,264.8 L1151.2,263.6 L1152.0,264.1 L1152.7,263.6 L1153.4,262.0 L1154.1,261.4 L1154.8,261.2 L1155.6,262.4 L1156.3,262.9 L1157.0,263.0 L1157.7,263.6 L1158.4,264.6 L1159.1,264.1 L1159.8,265.2 L1160.5,266.1 L1161.1,266.0 L1161.8,266.2 L1162.5,267.9 L1163.1,266.9 L1163.8,268.0 L1164.6,267.2 L1165.3,267.0 L1166.0,265.9 L1166.7,265.6 L1167.4,265.0 L1168.1,264.4 L1168.7,264.7 L1169.4,264.1 L1170.1,263.8 L1170.8,265.1 L1171.4,264.0 L1172.1,264.2 L1172.8,264.8 L1173.5,265.2 L1174.2,265.8 L1174.9,266.8 L1175.6,267.0 L1176.3,268.0 L1176.9,269.0 L1177.6,269.8 L1178.3,269.0 L1179.0,268.8 L1179.6,268.1 L1180.3,268.4 L1181.0,267.5 L1181.7,266.6 L1182.4,267.1 L1183.1,266.3 L1183.8,266.2 L1184.5,266.0 L1185.2,266.5 L1185.9,267.3 L1186.6,268.3 L1187.3,268.4 L1187.9,269.0 L1188.6,269.0 L1189.3,269.0 L1189.9,270.7 L1190.6,270.7 L1191.3,272.2 L1192.0,272.9 L1192.7,272.3 L1193.4,272.2 L1194.1,272.3 L1194.8,271.9 L1195.5,272.2 L1196.2,272.2 L1196.9,271.5 L1197.5,270.7 L1198.2,270.3 L1198.9,269.9 L1199.6,270.8 L1200.3,270.9 L1201.0,270.9 L1201.7,271.5 L1202.4,272.1 L1203.1,272.9 L1203.7,272.9 L1204.4,273.0 L1205.0,273.3 L1205.7,274.4 L1206.3,275.3 L1206.9,275.9 L1207.6,276.5 L1208.3,275.6 L1208.9,276.1 L1209.6,276.3 L1210.2,276.3 L1210.9,275.7 L1211.6,274.8 L1212.2,274.2 L1212.9,274.2 L1213.6,274.4 L1214.2,274.5 L1214.9,273.6 L1215.6,274.5 L1216.2,275.6 L1216.9,275.5 L1217.5,276.0 L1218.2,277.4 L1218.9,277.2 L1219.6,278.7 L1220.2,279.6 L1220.9,279.7 L1221.6,280.9 L1222.3,281.0 L1223.0,281.3 L1223.7,281.0 L1224.3,279.9 L1225.0,280.2 L1225.7,279.5 L1226.4,279.7 L1227.1,280.3 L1227.7,280.1 L1228.4,279.4 L1229.1,279.8 L1229.8,278.5 L1230.5,278.8 L1231.2,279.0 L1231.8,279.8 L1232.5,279.4 L1233.2,281.3 L1240.0,282.0 L1240.9,282.5 L1241.9,283.1 L1242.8,283.3 L1243.7,283.4 L1244.6,282.5 L1245.6,283.5 L1246.5,284.6 L1247.4,283.2 L1248.4,284.2 L1249.3,284.3 L1250.2,284.7 L1251.1,284.8 L1252.1,284.9 L1253.0,285.5 L1254.0,285.9 L1254.9,285.6 L1255.9,285.9 L1256.8,285.2 L1257.8,285.1 L1258.7,284.5 L1259.7,283.9 L1260.6,284.0 L1261.6,283.8 L1262.5,283.3 L1263.5,283.7 L1264.4,283.2 L1265.3,284.5 L1266.2,285.2 L1267.1,285.3 L1268.0,286.7 L1269.0,286.0 L1269.9,287.3 L1270.8,288.1 L1271.7,288.6 L1272.6,290.7 L1273.5,288.3 L1274.5,287.6 L1275.4,287.5 L1276.4,286.8 L1277.3,286.1 L1278.3,285.7 L1279.2,284.6 L1280.1,286.0 L1281.1,286.0 L1282.0,287.8 L1282.9,288.0 L1283.8,288.8 L1284.8,289.7 L1285.7,290.7 L1286.6,291.2 L1287.6,292.4 L1288.5,293.9 L1289.4,294.6 L1290.3,295.1 L1291.3,297.2 L1292.2,298.2 L1293.1,299.5 L1294.0,300.0 L1294.9,300.1 L1295.8,301.2 L1296.7,301.5 L1297.6,301.7 L1298.6,302.6 L1299.5,303.3 L1300.4,303.8 L1301.3,304.0 L1302.2,305.0 L1303.1,306.7 L1304.0,307.1 L1305.0,306.0 L1306.0,306.0 L1306.9,304.0 L1307.9,304.1 L1308.9,302.6 L1309.8,302.2 L1310.8,301.4 L1311.8,300.6 L1312.7,300.7 L1313.6,302.2 L1314.5,301.5 L1315.4,302.7 L1316.3,304.5 L1317.2,304.8 L1318.1,305.0 L1319.0,306.2 L1319.9,306.7 L1320.8,307.4 L1321.7,308.5 L1322.6,310.0 L1323.5,309.7 L1324.4,309.4 L1325.3,308.0 L1326.2,307.3 L1327.1,306.3 L1328.0,307.0 L1328.9,305.8 L1329.9,306.1 L1330.8,305.3 L1331.7,303.9 L1332.6,303.6 L1333.5,304.4 L1334.4,303.9 L1335.3,303.6 L1336.2,304.7 L1337.1,305.5 L1338.0,305.0 L1338.9,305.9 L1339.8,307.8 L1340.8,308.9 L1341.7,310.1 L1342.6,311.1 L1343.5,310.6 L1344.4,312.5 L1345.4,311.4 L1346.3,310.2 L1347.3,309.6 L1348.2,310.2 L1349.2,309.3 L1350.1,310.3 L1351.1,310.0 L1352.0,309.0 L1353.0,309.0 L1353.9,307.2 L1354.9,308.0 L1355.9,308.3 L1356.9,309.2 L1357.8,311.0 L1358.8,311.1 L1359.8,313.2 L1360.8,313.0 L1361.7,313.5 L1362.7,314.1 L1363.6,314.8 L1364.5,313.7 L1365.4,313.0 L1366.3,312.4 L1367.2,311.6 L1368.1,311.2 L1369.0,310.7 L1369.9,311.4 L1370.8,311.9 L1371.7,312.0 L1372.6,311.1 L1373.5,312.0 L1374.4,310.8 L1375.3,311.0 L1376.2,312.1 L1377.0,313.7 L1377.9,313.9 L1378.8,315.8 L1379.7,317.0 L1380.5,317.5 L1381.4,317.6 L1382.3,317.9 L1383.2,317.1 L1384.2,316.7 L1385.1,316.0 L1386.1,316.4 L1387.0,315.7 L1388.0,316.1 L1388.9,316.2 L1389.9,315.9 L1390.8,314.4 L1391.8,314.1 L1392.7,313.9 L1393.6,313.2 L1394.6,315.3 L1395.5,316.1 L1396.5,317.1 L1397.4,318.7 L1398.4,319.0 L1399.3,320.4 L1400.3,319.9 L1401.2,321.5 L1402.2,321.5 L1403.1,322.8 L1404.0,321.9 L1405.0,322.0 L1405.9,322.4 L1406.8,322.7 L1407.8,321.3 L1408.7,321.2 L1409.7,320.2 L1410.6,319.5 L1411.5,319.6 L1412.5,319.2 L1413.4,319.8 L1414.3,319.4 L1415.3,319.7 L1416.2,319.8 L1417.2,320.4 L1418.1,320.8 L1419.1,321.0 L1420.0,322.2 L1421.0,322.4 L1422.0,323.1 L1422.9,323.2 L1423.9,323.8 L1424.8,324.8 L1425.8,324.1 L1426.8,324.9 L1427.7,325.5 L1428.7,325.7 L1429.6,326.7 L1430.6,327.0 L1431.5,327.7 L1432.4,326.4 L1433.4,326.5 L1434.3,327.0 L1435.2,326.6 L1436.1,327.1 L1437.0,326.4 L1437.9,326.6 L1438.9,325.5 L1439.8,326.8 L1440.7,325.6 L1441.6,324.7 L1442.5,324.9 L1443.4,324.6 L1444.4,324.3 L1445.3,324.9 L1446.2,323.5 L1447.1,324.7 L1448.1,325.5 L1449.0,327.0 L1449.9,326.0 L1450.9,327.2 L1451.8,328.8 L1452.8,328.5 L1453.7,329.4 L1454.6,330.5 L1455.6,330.5 L1456.5,331.0 L1457.4,332.1 L1458.4,332.4 L1459.3,333.5 L1460.2,331.8 L1461.1,331.4 L1462.1,330.0 L1463.0,329.9 L1463.9,328.8 L1464.8,327.9 L1465.8,327.5 L1466.7,327.4 L1467.6,326.0 L1468.4,326.4 L1469.2,328.3 L1470.0,329.5 L1470.8,329.9 L1471.7,330.6 L1472.5,331.5 L1473.3,332.0 L1474.1,333.1 L1474.9,335.3 L1475.8,335.7 L1476.7,335.2 L1477.7,336.2 L1478.6,336.7 L1479.5,337.6 L1480.4,337.9 L1481.3,338.1 L1482.3,337.6 L1483.2,339.0 L1484.1,339.1 L1484.7,337.9 L1485.3,338.2 L1485.9,335.5 L1486.5,335.6 L1487.1,334.4 L1487.7,332.7 L1488.3,333.3 L1488.9,331.5 L1489.5,331.4 L1490.1,329.4 L1490.6,330.5 L1491.1,332.1 L1491.6,331.7 L1492.1,334.2 L1492.5,333.8 L1493.0,335.9 L1493.5,336.8 L1494.0,338.0 L1494.5,339.4 L1495.4,340.2 L1496.3,340.0 L1497.2,340.1 L1498.1,340.0 L1499.0,340.4 L1500.0,340.6 L1500.9,340.8 L1501.8,341.1 L1502.7,340.2 L1503.6,341.6 L1504.6,340.8 L1505.6,340.2 L1506.6,340.2 L1507.5,338.7 L1508.5,338.0 L1509.5,338.9 L1510.5,337.9 L1511.5,337.0 L1512.4,336.8 L1513.3,338.0 L1514.2,339.0 L1515.1,338.9 L1516.0,341.1 L1517.0,341.6 L1517.9,342.7 L1518.8,343.3 L1519.7,342.4 L1520.6,344.0 L1521.5,344.0 L1522.5,343.4 L1523.4,344.2 L1524.3,344.5 L1525.2,345.2 L1526.2,345.5 L1527.1,345.2 L1528.0,344.5 L1528.9,343.8 L1529.8,343.1 L1530.8,342.9 L1531.7,343.1 L1532.6,341.0 L1533.5,340.3 L1534.4,340.5 L1535.3,341.2 L1536.3,341.5 L1537.2,342.2 L1538.1,342.6 L1539.1,343.0 L1540.0,343.2 L1540.9,344.3 L1541.9,345.1 L1542.8,346.3 L1543.7,345.7 L1544.7,347.2 L1545.6,346.7 L1546.5,346.5 L1547.4,346.9 L1548.4,345.6 L1549.3,345.6 L1550.2,346.2 L1551.2,346.3 L1552.1,346.1 L1553.0,346.1 L1553.9,347.0 L1554.9,346.0 L1555.8,346.9 L1556.8,346.9 L1557.8,347.6 L1558.8,348.4 L1559.8,348.8 L1560.7,349.9 L1561.7,350.7 L1562.7,351.2 L1563.7,352.4 L1564.4,351.4 L1565.1,349.1 L1565.8,349.2 L1566.6,348.4 L1567.3,347.5 L1568.0,346.7 L1568.7,345.4 L1569.4,343.8 L1570.4,344.9 L1571.4,344.9 L1572.4,344.3 L1573.4,345.4 L1574.3,346.6 L1575.3,346.1 L1576.3,346.3 L1577.3,347.2 L1578.3,347.0 L1579.3,347.8 L1580.1,348.1 L1581.0,349.6 L1581.8,349.6 L1582.6,351.9 L1583.5,352.2 L1584.3,353.1 L1585.2,353.5 L1586.0,353.9 L1586.8,355.6 L1587.7,357.0 L1588.5,357.3 L1589.0,356.9 L1589.6,355.7 L1590.1,354.7 L1590.7,353.9 L1591.2,354.4 L1591.8,353.2 L1592.3,350.9 L1592.8,349.8 L1593.4,348.4 L1593.9,348.1 L1594.5,347.2 L1595.0,345.8 L1596.0,347.3 L1597.0,348.0 L1597.9,347.8 L1598.9,349.9 L1599.9,350.7 L1600.8,350.1 L1601.8,351.0 L1602.8,351.6 L1603.8,352.5 L1604.7,354.0 L1605.7,353.5 L1606.6,353.3 L1607.6,354.3 L1608.5,354.3 L1609.5,354.3 L1610.4,355.3 L1611.4,355.7 L1612.3,356.0 L1613.3,355.7 L1614.3,355.5 L1615.2,353.9 L1616.2,352.3 L1617.2,351.9 L1618.2,350.0 L1619.1,349.1 L1620.1,348.4 L1621.1,348.9 L1622.0,348.2 L1622.9,349.7 L1623.8,349.4 L1624.7,349.2 L1625.7,350.7 L1626.6,352.3 L1627.5,351.7 L1628.4,353.9 L1629.3,354.0 L1630.2,353.1 L1630.7,355.1 L1631.1,354.9 L1631.6,355.3 L1632.0,356.3 L1632.5,357.6 L1633.0,358.9 L1633.4,360.3 L1633.9,361.2 L1634.4,361.9 L1634.8,362.2 L1635.3,363.1 L1635.7,363.9 L1636.2,365.6 L1636.5,364.6 L1636.9,364.3 L1637.2,362.7 L1637.6,362.4 L1637.9,360.7 L1638.3,360.4 L1638.6,359.6 L1639.0,357.8 L1639.3,357.4 L1639.7,356.5 L1640.0,355.8 L1640.4,355.0 L1640.7,354.2 L1641.6,352.8 L1642.5,350.5 L1643.3,349.6 L1644.2,348.9 L1645.1,348.4 L1646.0,350.2 L1647.0,350.3 L1647.9,350.9 L1648.9,351.6 L1649.8,351.8" stroke="#f00" stroke-width="4.6"/>
</g>
<rect x="409" y="131" width="2" height="787" fill="#000" shape-rendering="crispEdges"/><polygon points="403.0,917 418.0,917 410.5,947" fill="#000"/>
<rect x="484" y="270" width="2" height="369" fill="#000" shape-rendering="crispEdges"/><polygon points="478.0,638 493.0,638 485.5,668" fill="#000"/>
<rect x="675" y="187" width="2" height="526" fill="#000" shape-rendering="crispEdges"/><polygon points="669.0,712 684.0,712 676.5,742" fill="#000"/>
<rect x="972" y="313" width="2" height="317.5" fill="#000" shape-rendering="crispEdges"/><polygon points="966.0,629.5 981.0,629.5 973.5,659.5" fill="#000"/>
<text transform="translate(252.0,1221.7) scale(1,1.04)" font-size="44" text-anchor="middle" font-family="'Liberation Sans', sans-serif">200</text>
<text transform="translate(468.2,1221.7) scale(1,1.04)" font-size="44" text-anchor="middle" font-family="'Liberation Sans', sans-serif">300</text>
<text transform="translate(684.3,1221.7) scale(1,1.04)" font-size="44" text-anchor="middle" font-family="'Liberation Sans', sans-serif">400</text>
<text transform="translate(900.5,1221.7) scale(1,1.04)" font-size="44" text-anchor="middle" font-family="'Liberation Sans', sans-serif">500</text>
<text transform="translate(1116.6,1221.7) scale(1,1.04)" font-size="44" text-anchor="middle" font-family="'Liberation Sans', sans-serif">600</text>
<text transform="translate(1332.8,1221.7) scale(1,1.04)" font-size="44" text-anchor="middle" font-family="'Liberation Sans', sans-serif">700</text>
<text transform="translate(1549.0,1221.7) scale(1,1.04)" font-size="44" text-anchor="middle" font-family="'Liberation Sans', sans-serif">800</text>
<text transform="translate(216,43) scale(1,1.04)" font-size="44" text-anchor="end" font-family="'Liberation Sans', sans-serif">100</text>
<text transform="translate(216,798.8) scale(1,1.04)" font-size="44" text-anchor="end" font-family="'Liberation Sans', sans-serif">90</text>
<text transform="translate(747.2,1306) scale(1,1.02)" font-size="54" letter-spacing="0.41" font-family="'Liberation Sans', sans-serif">Wavelength (nm)</text>
<text transform="translate(62.5,611.5) rotate(-90) scale(1,1.02)" font-size="54" text-anchor="middle" letter-spacing="0.13" font-family="'Liberation Sans', sans-serif">Trasmittance (%)</text>
<text transform="translate(370,1049) scale(1,1.03)" font-size="54" letter-spacing="0.1" font-family="'Liberation Sans', sans-serif">265 nm</text>
<text transform="translate(462,727.5) scale(1,1.03)" font-size="54" letter-spacing="0.1" font-family="'Liberation Sans', sans-serif">295 nm</text>
<text transform="translate(620,836) scale(1,1.03)" font-size="54" letter-spacing="0.1" font-family="'Liberation Sans', sans-serif">395 nm</text>
<text transform="translate(924.7,736) scale(1,1.03)" font-size="54" letter-spacing="0.1" font-family="'Liberation Sans', sans-serif">534 nm</text>
<rect x="1029" y="805" width="454" height="141" fill="#fff" stroke="#000" stroke-width="1.6" shape-rendering="crispEdges"/>
<rect x="1038" y="840.5" width="121.5" height="4.5" fill="#000" shape-rendering="crispEdges"/>
<rect x="1038" y="906.5" width="121.5" height="4.5" fill="#f00" shape-rendering="crispEdges"/>
<text transform="translate(1172.5,861) scale(1,1.03)" font-size="54" letter-spacing="0.41" font-family="'Liberation Sans', sans-serif">Pristine PVA</text>
<text transform="translate(1172.5,927) scale(1,1.03)" font-size="54" letter-spacing="0.41" font-family="'Liberation Sans', sans-serif">PVA* CDs</text>
</svg>
</body></html>
